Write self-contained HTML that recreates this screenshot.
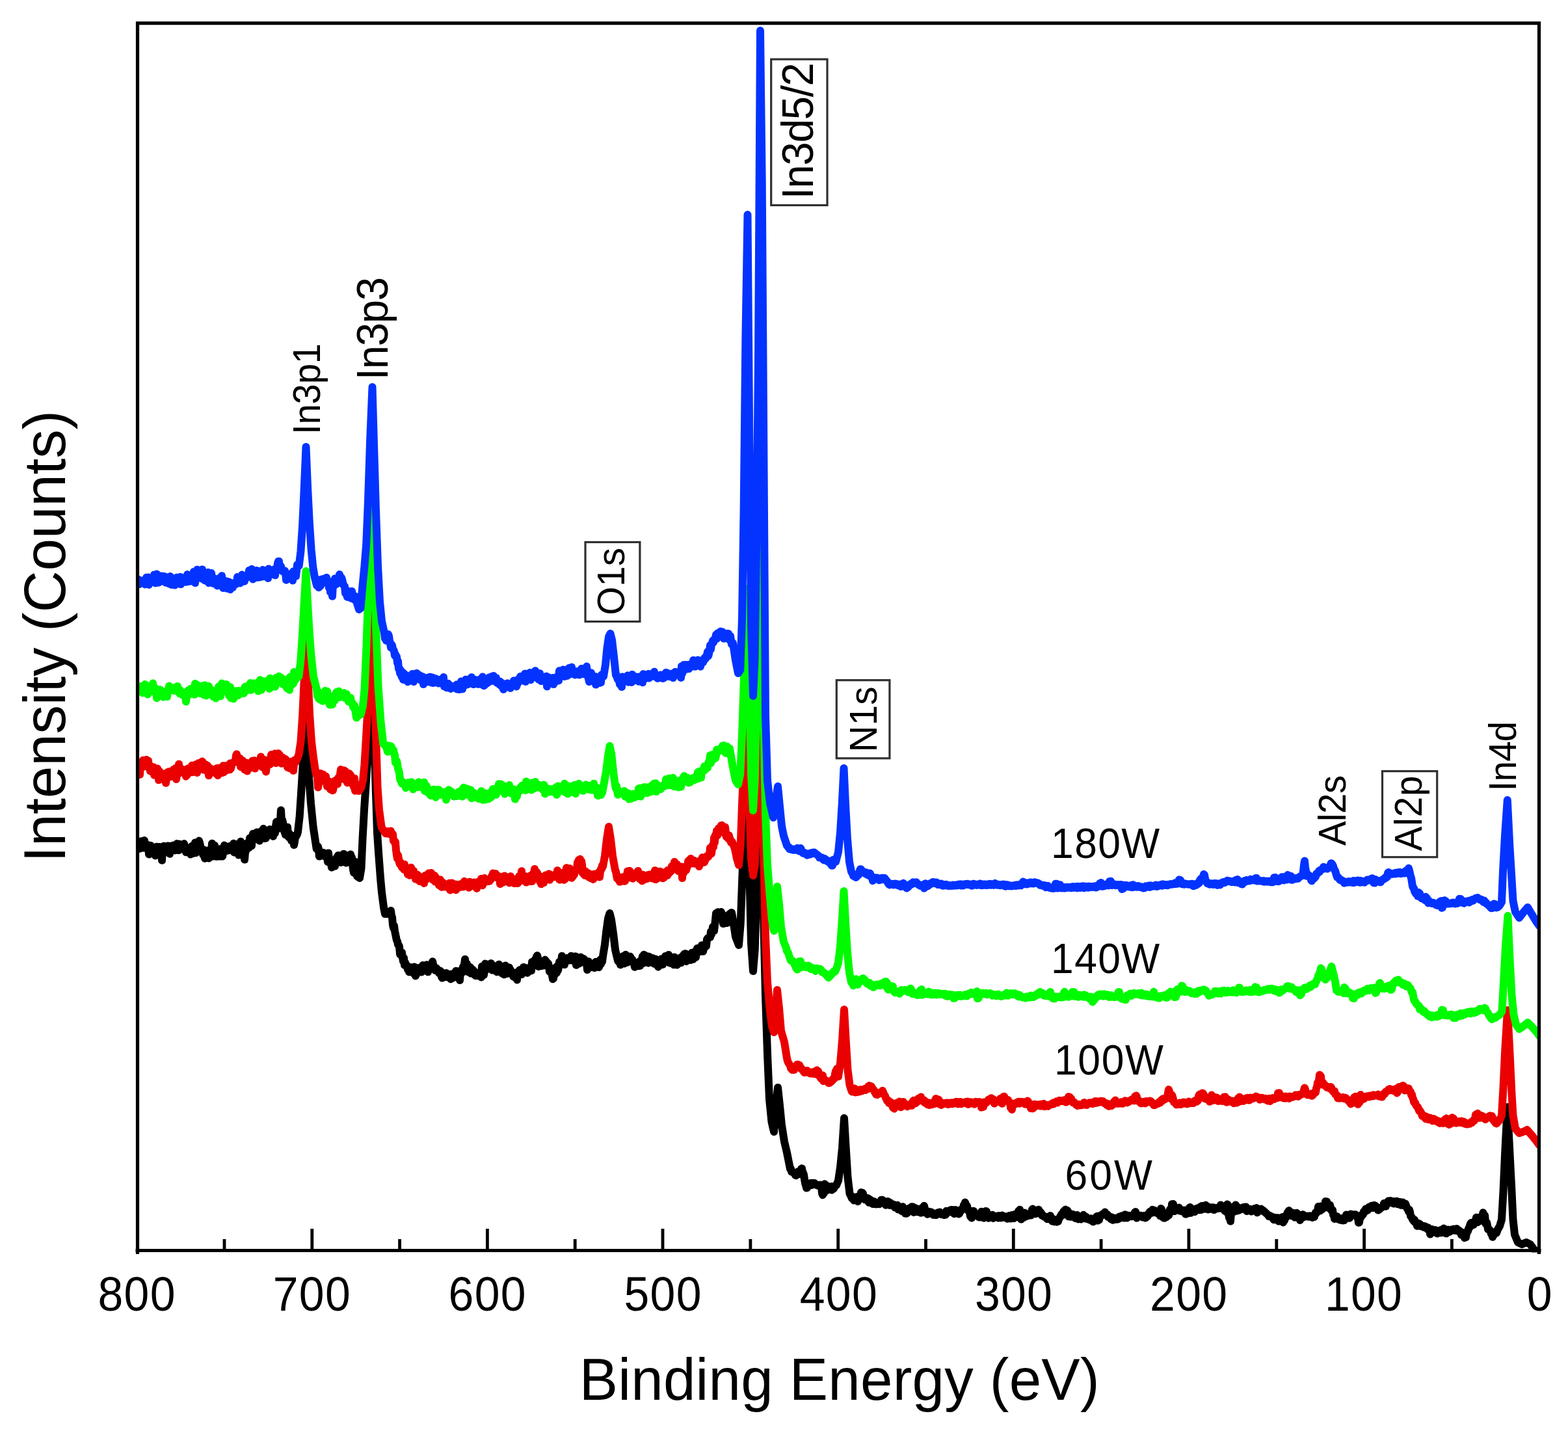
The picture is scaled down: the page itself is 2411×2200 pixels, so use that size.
<!DOCTYPE html>
<html lang="en"><head><meta charset="utf-8"><title>XPS survey spectra</title>
<style>html,body{margin:0;padding:0;background:#fff}body{width:2411px;height:2200px;overflow:hidden}svg{display:block}text{font-family:"Liberation Sans",Arial,Helvetica,sans-serif;fill:#000}</style></head><body>
<svg xmlns="http://www.w3.org/2000/svg" width="2411" height="2200" viewBox="0 0 2411 2200">
<rect width="2411" height="2200" fill="#fff"/>
<defs><clipPath id="plot"><rect x="211.5" y="35.7" width="2155.0" height="1889.8"/></clipPath></defs>
<g clip-path="url(#plot)">
<polyline points="212.0,1301.0 213.0,1295.1 214.0,1302.1 215.0,1304.7 216.0,1297.4 217.0,1293.3 218.0,1298.9 219.0,1301.0 220.0,1303.6 221.0,1292.6 222.0,1292.0 223.0,1300.9 224.0,1299.5 225.0,1304.1 226.0,1302.7 227.0,1298.9 228.0,1299.2 229.0,1313.5 230.0,1301.5 231.0,1300.4 232.0,1299.9 233.0,1306.8 234.0,1308.2 235.0,1307.1 236.0,1309.5 237.0,1312.3 238.0,1313.9 239.0,1315.5 240.0,1311.1 241.0,1301.7 242.0,1312.8 243.0,1302.8 244.0,1308.3 245.0,1302.0 246.0,1308.5 247.0,1304.6 248.0,1308.9 249.0,1322.8 250.0,1307.2 251.0,1311.0 252.0,1300.7 253.0,1305.2 254.0,1309.3 255.0,1305.6 256.0,1307.4 257.0,1305.8 258.0,1300.4 259.0,1307.3 260.0,1300.7 261.0,1312.7 262.0,1301.4 263.0,1306.6 264.0,1303.1 265.0,1307.2 266.0,1299.7 267.0,1306.8 268.0,1301.3 269.0,1307.4 270.0,1304.1 271.0,1301.6 272.0,1297.0 273.0,1303.8 274.0,1302.1 275.0,1307.2 276.0,1297.6 277.0,1301.6 278.0,1301.8 279.0,1301.2 280.0,1301.4 281.0,1301.7 282.0,1298.6 283.0,1297.1 284.0,1300.4 285.0,1305.5 286.0,1310.2 287.0,1308.2 288.0,1309.0 289.0,1308.2 290.0,1308.3 291.0,1306.4 292.0,1309.5 293.0,1313.5 294.0,1303.2 295.0,1300.8 296.0,1312.3 297.0,1303.8 298.0,1306.5 299.0,1305.4 300.0,1295.4 301.0,1311.2 302.0,1307.5 303.0,1299.5 304.0,1301.5 305.0,1297.9 306.0,1292.6 307.0,1295.5 308.0,1300.1 309.0,1305.8 310.0,1306.3 311.0,1305.6 312.0,1313.9 313.0,1306.5 314.0,1316.0 315.0,1319.8 316.0,1315.7 317.0,1307.8 318.0,1311.0 319.0,1315.3 320.0,1315.7 321.0,1319.5 322.0,1306.8 323.0,1310.5 324.0,1312.6 325.0,1307.9 326.0,1296.8 327.0,1310.5 328.0,1316.5 329.0,1309.5 330.0,1299.8 331.0,1302.6 332.0,1306.0 333.0,1316.9 334.0,1308.8 335.0,1307.0 336.0,1314.2 337.0,1307.1 338.0,1316.6 339.0,1305.3 340.0,1306.8 341.0,1312.8 342.0,1316.6 343.0,1312.3 344.0,1310.1 345.0,1299.6 346.0,1304.1 347.0,1303.9 348.0,1303.5 349.0,1308.0 350.0,1303.1 351.0,1307.6 352.0,1303.7 353.0,1301.1 354.0,1302.5 355.0,1304.2 356.0,1306.3 357.0,1300.4 358.0,1301.7 359.0,1296.7 360.0,1310.5 361.0,1310.0 362.0,1302.7 363.0,1301.5 364.0,1298.2 365.0,1304.8 366.0,1305.2 367.0,1314.5 368.0,1305.8 369.0,1301.2 370.0,1293.8 371.0,1311.6 372.0,1306.1 373.0,1297.9 374.0,1306.2 375.0,1298.1 376.0,1321.6 377.0,1310.8 378.0,1308.4 379.0,1305.1 380.0,1296.2 381.0,1303.5 382.0,1295.0 383.0,1303.0 384.0,1288.6 385.0,1292.3 386.0,1300.2 387.0,1300.3 388.0,1285.4 389.0,1281.8 390.0,1291.0 391.0,1290.5 392.0,1281.6 393.0,1282.6 394.0,1282.1 395.0,1279.4 396.0,1281.4 397.0,1289.8 398.0,1286.8 399.0,1292.7 400.0,1282.4 401.0,1281.8 402.0,1277.5 403.0,1281.5 404.0,1276.1 405.0,1274.0 406.0,1285.5 407.0,1289.0 408.0,1286.2 409.0,1288.6 410.0,1283.7 411.0,1279.3 412.0,1283.1 413.0,1281.0 414.0,1277.7 415.0,1275.1 416.0,1276.1 417.0,1283.0 418.0,1282.4 419.0,1278.2 420.0,1285.7 421.0,1278.6 422.0,1279.2 423.0,1280.8 424.0,1270.1 425.0,1263.5 426.0,1274.8 427.0,1266.8 428.0,1273.0 429.0,1265.6 430.0,1265.6 431.0,1261.5 432.0,1245.4 433.0,1262.6 434.0,1260.4 435.0,1264.3 436.0,1270.0 437.0,1277.8 438.0,1280.6 439.0,1283.4 440.0,1273.4 441.0,1279.1 442.0,1271.7 443.0,1283.0 444.0,1287.1 445.0,1281.7 446.0,1287.1 447.0,1287.9 448.0,1292.3 449.0,1284.7 450.0,1285.5 451.0,1286.7 452.0,1299.1 453.0,1294.2 454.0,1286.8 455.0,1286.5 456.0,1284.2 457.0,1282.8 458.0,1279.0 460.7,1255.0 463.0,1220.0 465.5,1180.0 468.2,1130.0 471.0,1083.0 474.2,1185.0 478.0,1235.0 481.7,1272.0 486.7,1305.0 487.8,1304.5 488.8,1301.2 489.9,1305.0 490.9,1316.6 492.0,1312.5 493.0,1311.0 494.0,1310.5 495.0,1312.5 496.0,1314.6 497.0,1310.8 498.0,1315.4 499.0,1316.4 500.0,1312.6 501.0,1313.6 502.0,1313.9 503.0,1314.9 504.0,1325.1 505.0,1311.4 506.0,1322.3 507.0,1321.9 508.0,1323.1 509.0,1327.7 510.0,1333.7 511.0,1330.1 512.0,1330.4 513.0,1327.0 514.0,1328.0 515.0,1331.6 516.0,1324.4 517.0,1319.7 518.0,1318.0 519.0,1317.5 520.0,1315.0 521.0,1325.3 522.0,1320.6 523.0,1318.1 524.0,1326.0 525.0,1316.5 526.0,1323.1 527.0,1323.5 528.0,1312.9 529.0,1313.0 530.0,1316.1 531.0,1324.7 532.0,1326.6 533.0,1315.2 534.0,1325.8 535.0,1319.4 536.0,1319.5 537.0,1319.0 538.0,1320.2 539.0,1313.5 540.0,1317.4 541.0,1318.1 542.0,1327.8 543.0,1336.9 544.0,1341.7 545.0,1329.3 546.0,1324.7 547.0,1332.6 548.0,1331.9 549.0,1347.1 553.0,1350.0 555.5,1335.0 557.5,1290.0 560.0,1245.0 563.0,1200.0 566.0,1150.0 569.0,1100.0 572.5,1050.0 575.2,1130.0 578.0,1220.0 580.0,1280.0 582.0,1310.0 585.0,1350.0 587.0,1372.0 590.0,1395.0 592.0,1405.0 597.0,1405.0 601.0,1400.0 602.0,1408.3 603.0,1409.9 604.0,1422.1 605.0,1426.9 606.0,1423.2 607.0,1431.1 608.0,1436.1 609.0,1441.1 610.0,1445.5 611.0,1447.1 612.0,1452.3 613.0,1452.9 614.0,1455.1 615.0,1467.1 616.0,1466.3 617.0,1469.1 618.0,1464.3 619.0,1471.9 620.0,1477.9 621.0,1472.9 622.0,1483.9 623.0,1479.9 624.0,1483.9 625.0,1483.3 626.0,1485.8 627.0,1490.6 628.0,1486.1 629.0,1494.4 630.0,1487.2 631.0,1487.1 632.0,1493.4 633.0,1487.4 634.0,1490.3 635.0,1495.3 636.0,1496.7 637.0,1486.4 638.0,1495.0 639.0,1500.4 640.0,1498.3 641.0,1492.7 642.0,1490.9 643.0,1491.5 644.0,1488.0 645.0,1490.7 646.0,1490.5 647.0,1490.2 648.0,1494.5 649.0,1489.0 650.0,1484.1 651.0,1492.6 652.0,1484.6 653.0,1486.3 654.0,1487.0 655.0,1485.8 656.0,1483.2 657.0,1485.8 658.0,1494.3 659.0,1484.2 660.0,1485.7 661.0,1490.0 662.0,1488.5 663.0,1488.4 664.0,1488.6 665.0,1478.3 666.0,1482.1 667.0,1485.5 668.0,1487.9 669.0,1491.8 670.0,1489.9 671.0,1488.5 672.0,1490.5 673.0,1490.7 674.0,1493.4 675.0,1496.0 676.0,1493.5 677.0,1492.8 678.0,1493.8 679.0,1501.9 680.0,1503.6 681.0,1502.7 682.0,1502.3 683.0,1502.3 684.0,1499.4 685.0,1501.9 686.0,1495.9 687.0,1499.0 688.0,1497.2 689.0,1502.6 690.0,1498.0 691.0,1499.8 692.0,1501.7 693.0,1505.2 694.0,1497.6 695.0,1497.2 696.0,1503.6 697.0,1496.8 698.0,1502.5 699.0,1499.0 700.0,1499.8 701.0,1492.8 702.0,1501.1 703.0,1495.9 704.0,1493.7 705.0,1503.5 706.0,1497.8 707.0,1507.0 708.0,1495.1 709.0,1491.6 710.0,1492.4 711.0,1495.0 712.0,1486.3 713.0,1485.2 714.0,1482.7 715.0,1474.7 716.0,1481.3 717.0,1481.8 718.0,1481.9 719.0,1492.3 720.0,1494.4 721.0,1493.0 722.0,1490.2 723.0,1486.9 724.0,1496.6 725.0,1495.2 726.0,1490.2 727.0,1496.8 728.0,1491.9 729.0,1497.7 730.0,1498.7 731.0,1499.9 732.0,1499.8 733.0,1500.0 734.0,1495.7 735.0,1498.8 736.0,1498.8 737.0,1500.2 738.0,1500.5 739.0,1500.2 740.0,1502.4 741.0,1485.8 742.0,1494.9 743.0,1491.3 744.0,1498.7 745.0,1492.3 746.0,1481.6 747.0,1487.4 748.0,1484.3 749.0,1490.0 750.0,1482.8 751.0,1486.4 752.0,1486.5 753.0,1486.9 754.0,1485.3 755.0,1481.0 756.0,1489.5 757.0,1491.6 758.0,1488.0 759.0,1484.8 760.0,1489.3 761.0,1490.8 762.0,1488.4 763.0,1489.1 764.0,1494.3 765.0,1485.3 766.0,1487.4 767.0,1482.7 768.0,1487.2 769.0,1487.1 770.0,1486.4 771.0,1487.5 772.0,1496.6 773.0,1489.5 774.0,1489.9 775.0,1498.3 776.0,1490.3 777.0,1484.4 778.0,1492.2 779.0,1487.5 780.0,1496.9 781.0,1487.3 782.0,1490.4 783.0,1487.5 784.0,1494.3 785.0,1491.1 786.0,1495.3 787.0,1494.9 788.0,1494.8 789.0,1501.1 790.0,1501.9 791.0,1499.5 792.0,1496.8 793.0,1495.5 794.0,1499.6 795.0,1506.5 796.0,1495.6 797.0,1493.7 798.0,1493.3 799.0,1491.2 800.0,1490.9 801.0,1493.0 802.0,1498.1 803.0,1492.9 804.0,1491.0 805.0,1486.9 806.0,1493.4 807.0,1492.4 808.0,1488.0 809.0,1488.4 810.0,1492.0 811.0,1495.7 812.0,1494.2 813.0,1491.2 814.0,1487.8 815.0,1488.7 816.0,1486.0 817.0,1492.3 818.0,1478.9 819.0,1480.2 820.0,1484.5 821.0,1477.4 822.0,1481.9 823.0,1475.0 824.0,1474.1 825.0,1470.7 826.0,1469.0 827.0,1472.5 828.0,1485.9 829.0,1482.3 830.0,1484.2 831.0,1485.2 832.0,1483.6 833.0,1485.1 834.0,1480.2 835.0,1480.2 836.0,1484.3 837.0,1479.3 838.0,1475.6 839.0,1479.4 840.0,1478.0 841.0,1483.9 842.0,1480.7 843.0,1481.2 844.0,1485.5 845.0,1493.9 846.0,1489.8 847.0,1493.6 848.0,1496.0 849.0,1500.1 850.0,1505.3 851.0,1504.2 852.0,1490.5 853.0,1498.5 854.0,1490.8 855.0,1486.8 856.0,1495.5 857.0,1485.2 858.0,1491.7 859.0,1487.1 860.0,1478.8 861.0,1483.2 862.0,1482.9 863.0,1478.8 864.0,1469.7 865.0,1475.8 866.0,1476.1 867.0,1472.7 868.0,1483.0 869.0,1475.4 870.0,1474.7 871.0,1474.9 872.0,1473.0 873.0,1472.8 874.0,1475.7 875.0,1476.4 876.0,1473.2 877.0,1474.6 878.0,1469.7 879.0,1476.4 880.0,1471.7 881.0,1474.9 882.0,1470.7 883.0,1472.4 884.0,1475.2 885.0,1470.3 886.0,1483.8 887.0,1475.0 888.0,1475.1 889.0,1473.0 890.0,1481.6 891.0,1481.0 892.0,1477.4 893.0,1471.6 894.0,1475.0 895.0,1479.2 896.0,1475.7 897.0,1473.8 898.0,1474.2 899.0,1476.2 900.0,1479.5 901.0,1477.7 902.0,1480.6 903.0,1491.0 904.0,1487.9 905.0,1478.3 906.0,1483.7 907.0,1483.3 908.0,1482.6 909.0,1486.9 910.0,1482.0 911.0,1482.1 912.0,1482.0 913.0,1483.0 914.0,1488.1 915.0,1486.3 916.0,1478.8 917.0,1482.1 918.0,1480.9 919.0,1486.7 920.0,1484.7 921.0,1487.1 922.0,1483.8 923.0,1475.4 924.0,1482.0 925.0,1479.4 926.0,1478.6 927.0,1470.3 930.0,1452.0 932.5,1430.0 935.0,1412.0 937.5,1404.0 940.0,1414.0 943.0,1435.0 946.0,1460.0 950.0,1477.0 951.0,1478.5 952.0,1477.0 953.0,1478.3 954.0,1483.3 955.0,1482.5 956.0,1477.3 957.0,1473.5 958.0,1470.0 959.0,1476.1 960.0,1481.4 961.0,1476.4 962.0,1467.8 963.0,1472.0 964.0,1475.8 965.0,1479.5 966.0,1477.0 967.0,1473.3 968.0,1473.8 969.0,1470.4 970.0,1473.6 971.0,1475.1 972.0,1474.6 973.0,1478.7 974.0,1478.1 975.0,1481.8 976.0,1486.8 977.0,1485.4 978.0,1485.3 979.0,1484.1 980.0,1480.5 981.0,1484.2 982.0,1485.2 983.0,1478.2 984.0,1484.9 985.0,1477.8 986.0,1478.9 987.0,1475.0 988.0,1470.3 989.0,1480.8 990.0,1467.8 991.0,1475.5 992.0,1470.4 993.0,1473.6 994.0,1469.9 995.0,1471.5 996.0,1476.5 997.0,1480.4 998.0,1470.6 999.0,1473.8 1000.0,1477.4 1001.0,1472.3 1002.0,1477.7 1003.0,1472.9 1004.0,1478.5 1005.0,1478.5 1006.0,1481.8 1007.0,1479.4 1008.0,1474.4 1009.0,1481.6 1010.0,1475.9 1011.0,1483.1 1012.0,1486.4 1013.0,1482.7 1014.0,1478.1 1015.0,1483.9 1016.0,1479.8 1017.0,1474.2 1018.0,1477.0 1019.0,1482.9 1020.0,1476.2 1021.0,1477.3 1022.0,1475.2 1023.0,1469.9 1024.0,1473.6 1025.0,1476.3 1026.0,1475.9 1027.0,1474.8 1028.0,1467.9 1029.0,1480.2 1030.0,1478.6 1031.0,1479.9 1032.0,1481.1 1033.0,1475.0 1034.0,1474.6 1035.0,1478.1 1036.0,1483.2 1037.0,1471.4 1038.0,1476.8 1039.0,1475.2 1040.0,1480.0 1041.0,1483.5 1042.0,1477.3 1043.0,1474.1 1044.0,1479.0 1045.0,1478.0 1046.0,1472.5 1047.0,1480.2 1048.0,1474.1 1049.0,1477.5 1050.0,1469.3 1051.0,1476.9 1052.0,1466.8 1053.0,1476.1 1054.0,1466.1 1055.0,1477.9 1056.0,1471.9 1057.0,1468.0 1058.0,1473.0 1059.0,1475.4 1060.0,1470.9 1061.0,1473.0 1062.0,1476.0 1063.0,1474.8 1064.0,1464.7 1065.0,1474.5 1066.0,1474.8 1067.0,1471.6 1068.0,1471.5 1069.0,1462.7 1070.0,1471.6 1071.0,1462.6 1072.0,1458.1 1073.0,1461.3 1074.0,1461.3 1075.0,1458.7 1076.0,1456.6 1077.0,1462.9 1078.0,1461.2 1079.0,1453.3 1080.0,1456.6 1081.0,1462.7 1082.0,1458.9 1083.0,1457.1 1084.0,1456.0 1085.0,1451.7 1086.0,1454.5 1087.0,1444.2 1088.0,1442.5 1089.0,1442.6 1090.0,1441.7 1091.0,1440.1 1092.0,1440.9 1093.0,1432.1 1094.0,1436.3 1095.0,1432.1 1096.0,1425.0 1097.0,1426.5 1098.0,1430.9 1099.0,1422.7 1100.0,1414.6 1101.0,1404.1 1102.0,1406.5 1103.0,1403.1 1104.0,1402.3 1105.0,1411.1 1106.0,1406.4 1107.0,1405.7 1108.0,1402.1 1109.0,1402.0 1110.0,1406.4 1111.0,1406.3 1112.0,1420.1 1113.0,1409.2 1114.0,1409.8 1115.0,1417.4 1116.0,1414.9 1117.0,1411.6 1118.0,1419.0 1119.0,1411.7 1120.0,1406.4 1121.0,1410.8 1122.0,1409.8 1123.0,1404.1 1124.0,1405.2 1125.0,1402.9 1128.0,1420.0 1131.0,1440.0 1136.0,1453.0 1138.7,1420.0 1141.3,1350.0 1144.0,1280.0 1146.6,1230.0 1149.3,1192.0 1152.0,1330.0 1155.0,1450.0 1158.0,1493.0 1160.7,1460.0 1163.4,1370.0 1166.1,1230.0 1169.0,1088.0 1171.7,1250.0 1174.4,1420.0 1177.0,1530.0 1180.0,1620.0 1183.0,1690.0 1186.5,1725.0 1190.0,1740.0 1192.5,1705.0 1196.0,1672.0 1199.0,1700.0 1202.0,1730.0 1206.0,1755.0 1210.0,1772.0 1215.0,1797.0 1216.0,1797.0 1217.0,1801.3 1218.0,1800.8 1219.0,1801.8 1220.0,1802.5 1221.0,1803.8 1222.0,1803.7 1223.0,1806.8 1224.0,1807.2 1225.0,1804.1 1226.0,1804.0 1227.0,1801.2 1228.0,1805.1 1229.0,1802.5 1230.0,1802.8 1231.0,1800.2 1232.0,1797.0 1233.0,1796.3 1234.0,1802.0 1235.0,1803.2 1236.0,1806.0 1237.0,1813.1 1238.0,1819.1 1239.0,1822.2 1240.0,1826.4 1241.0,1826.2 1242.0,1821.1 1243.0,1821.3 1244.0,1819.7 1245.0,1819.3 1246.0,1822.2 1247.0,1818.7 1248.0,1822.1 1249.0,1820.3 1250.0,1818.9 1251.0,1820.1 1252.0,1818.7 1253.0,1820.6 1254.0,1820.7 1255.0,1820.7 1256.0,1822.2 1257.0,1822.4 1258.0,1822.7 1259.0,1822.1 1260.0,1823.7 1261.0,1821.6 1262.0,1824.5 1263.0,1824.2 1264.0,1834.6 1265.0,1837.2 1266.0,1834.6 1267.0,1834.3 1268.0,1820.3 1269.0,1821.8 1270.0,1821.7 1271.0,1826.8 1272.0,1829.8 1273.0,1827.7 1274.0,1827.9 1275.0,1827.1 1276.0,1828.2 1277.0,1827.6 1278.0,1824.0 1279.0,1829.5 1280.0,1828.0 1281.0,1828.1 1282.0,1827.3 1283.0,1825.0 1284.0,1822.9 1285.0,1822.3 1286.0,1822.2 1289.0,1815.0 1292.0,1795.0 1295.0,1765.0 1298.0,1719.0 1300.7,1765.0 1303.5,1810.0 1306.5,1835.0 1309.0,1840.0 1310.0,1842.4 1311.0,1840.1 1312.0,1841.7 1313.0,1845.5 1314.0,1840.8 1315.0,1840.8 1316.0,1842.1 1317.0,1840.1 1318.0,1841.5 1319.0,1847.2 1320.0,1845.1 1321.0,1841.5 1322.0,1841.6 1323.0,1838.2 1324.0,1833.2 1325.0,1833.5 1326.0,1833.6 1327.0,1835.1 1328.0,1840.6 1329.0,1843.5 1330.0,1844.4 1331.0,1843.1 1332.0,1841.5 1333.0,1842.5 1334.0,1843.2 1335.0,1842.2 1336.0,1848.7 1337.0,1845.9 1338.0,1844.5 1339.0,1847.9 1340.0,1845.7 1341.0,1847.7 1342.0,1851.1 1343.0,1849.9 1344.0,1847.2 1345.0,1848.4 1346.0,1851.3 1347.0,1851.4 1348.0,1849.9 1349.0,1850.1 1350.0,1849.2 1351.0,1850.0 1352.0,1851.3 1353.0,1848.8 1354.0,1847.8 1355.0,1844.7 1356.0,1846.5 1357.0,1844.8 1358.0,1847.7 1359.0,1847.2 1360.0,1849.8 1361.0,1849.0 1362.0,1852.8 1363.0,1851.4 1364.0,1849.1 1365.0,1847.0 1366.0,1847.6 1367.0,1848.5 1368.0,1852.8 1369.0,1849.0 1370.0,1852.5 1371.0,1852.4 1372.0,1853.4 1373.0,1853.2 1374.0,1851.7 1375.0,1853.1 1376.0,1856.5 1377.0,1853.9 1378.0,1855.9 1379.0,1854.4 1380.0,1852.8 1381.0,1859.3 1382.0,1857.8 1383.0,1859.8 1384.0,1857.1 1385.0,1860.7 1386.0,1858.2 1387.0,1862.2 1388.0,1855.2 1389.0,1859.9 1390.0,1861.1 1391.0,1862.5 1392.0,1865.6 1393.0,1864.5 1394.0,1865.7 1395.0,1864.1 1396.0,1862.9 1397.0,1863.2 1398.0,1857.4 1399.0,1858.5 1400.0,1857.8 1401.0,1856.6 1402.0,1855.2 1403.0,1856.5 1404.0,1855.6 1405.0,1863.9 1406.0,1859.8 1407.0,1861.4 1408.0,1857.3 1409.0,1860.7 1410.0,1862.2 1411.0,1863.3 1412.0,1861.9 1413.0,1858.8 1414.0,1860.8 1415.0,1862.3 1416.0,1864.7 1417.0,1863.3 1418.0,1863.7 1419.0,1855.9 1420.0,1856.3 1421.0,1853.8 1422.0,1858.2 1423.0,1864.4 1424.0,1863.1 1425.0,1863.0 1426.0,1866.7 1427.0,1865.8 1428.0,1865.3 1429.0,1862.8 1430.0,1864.8 1431.0,1864.4 1432.0,1863.5 1433.0,1866.0 1434.0,1865.2 1435.0,1867.7 1436.0,1866.9 1437.0,1865.8 1438.0,1867.9 1439.0,1868.1 1440.0,1867.7 1441.0,1866.0 1442.0,1864.2 1443.0,1865.3 1444.0,1864.8 1445.0,1863.6 1446.0,1865.8 1447.0,1866.8 1448.0,1867.0 1449.0,1866.6 1450.0,1867.1 1451.0,1865.1 1452.0,1868.1 1453.0,1864.9 1454.0,1867.6 1455.0,1861.8 1456.0,1865.1 1457.0,1863.2 1458.0,1862.2 1459.0,1863.6 1460.0,1861.0 1461.0,1862.5 1462.0,1860.1 1463.0,1862.3 1464.0,1859.9 1465.0,1862.2 1466.0,1861.3 1467.0,1866.1 1468.0,1861.9 1469.0,1860.0 1470.0,1862.2 1471.0,1862.8 1472.0,1862.2 1473.0,1861.1 1474.0,1866.4 1475.0,1866.1 1476.0,1863.0 1477.0,1860.7 1478.0,1861.3 1479.0,1858.7 1480.0,1858.8 1481.0,1857.9 1482.0,1852.4 1483.0,1853.0 1484.0,1848.6 1485.0,1851.6 1486.0,1856.4 1487.0,1853.8 1488.0,1859.3 1489.0,1861.6 1490.0,1860.4 1491.0,1864.2 1492.0,1870.4 1493.0,1869.0 1494.0,1872.5 1495.0,1863.9 1496.0,1862.9 1497.0,1861.8 1498.0,1865.5 1499.0,1866.0 1500.0,1868.6 1501.0,1868.0 1502.0,1867.6 1503.0,1869.2 1504.0,1869.9 1505.0,1871.3 1506.0,1868.5 1507.0,1871.4 1508.0,1869.7 1509.0,1862.7 1510.0,1866.8 1511.0,1866.3 1512.0,1867.9 1513.0,1872.6 1514.0,1870.3 1515.0,1863.5 1516.0,1861.9 1517.0,1862.4 1518.0,1870.8 1519.0,1870.3 1520.0,1872.7 1521.0,1870.5 1522.0,1871.2 1523.0,1868.4 1524.0,1869.5 1525.0,1871.2 1526.0,1867.7 1527.0,1872.9 1528.0,1868.8 1529.0,1870.0 1530.0,1870.7 1531.0,1871.0 1532.0,1870.2 1533.0,1870.4 1534.0,1870.5 1535.0,1872.5 1536.0,1869.1 1537.0,1869.2 1538.0,1870.0 1539.0,1872.3 1540.0,1870.4 1541.0,1868.5 1542.0,1871.7 1543.0,1870.4 1544.0,1869.9 1545.0,1870.9 1546.0,1870.4 1547.0,1871.4 1548.0,1872.7 1549.0,1873.7 1550.0,1872.7 1551.0,1872.2 1552.0,1868.9 1553.0,1872.3 1554.0,1873.6 1555.0,1868.6 1556.0,1867.9 1557.0,1870.6 1558.0,1870.6 1559.0,1873.1 1560.0,1870.4 1561.0,1866.8 1562.0,1867.5 1563.0,1871.0 1564.0,1869.8 1565.0,1868.5 1566.0,1861.8 1567.0,1862.6 1568.0,1859.7 1569.0,1870.8 1570.0,1874.6 1571.0,1868.1 1572.0,1870.9 1573.0,1871.1 1574.0,1872.0 1575.0,1865.4 1576.0,1864.6 1577.0,1868.9 1578.0,1866.2 1579.0,1869.7 1580.0,1868.2 1581.0,1867.9 1582.0,1868.5 1583.0,1866.7 1584.0,1868.5 1585.0,1868.4 1586.0,1866.2 1587.0,1859.4 1588.0,1858.6 1589.0,1859.3 1590.0,1862.9 1591.0,1863.9 1592.0,1866.3 1593.0,1863.7 1594.0,1862.3 1595.0,1862.5 1596.0,1861.3 1597.0,1859.7 1598.0,1861.8 1599.0,1863.8 1600.0,1863.6 1601.0,1864.8 1602.0,1868.7 1603.0,1867.9 1604.0,1868.7 1605.0,1869.5 1606.0,1871.1 1607.0,1871.0 1608.0,1870.6 1609.0,1871.4 1610.0,1874.1 1611.0,1872.5 1612.0,1872.6 1613.0,1871.5 1614.0,1874.2 1615.0,1869.1 1616.0,1872.2 1617.0,1876.3 1618.0,1877.4 1619.0,1875.9 1620.0,1874.3 1621.0,1878.2 1622.0,1875.8 1623.0,1876.0 1624.0,1877.3 1625.0,1878.7 1626.0,1877.2 1627.0,1877.9 1628.0,1874.1 1629.0,1873.0 1630.0,1870.6 1631.0,1869.5 1632.0,1867.1 1633.0,1868.5 1634.0,1866.3 1635.0,1862.8 1636.0,1864.2 1637.0,1860.9 1638.0,1859.6 1639.0,1864.2 1640.0,1861.8 1641.0,1860.8 1642.0,1862.2 1643.0,1870.3 1644.0,1865.4 1645.0,1869.7 1646.0,1870.8 1647.0,1866.4 1648.0,1868.1 1649.0,1868.9 1650.0,1867.1 1651.0,1870.5 1652.0,1870.4 1653.0,1872.7 1654.0,1873.0 1655.0,1871.5 1656.0,1867.9 1657.0,1869.2 1658.0,1874.4 1659.0,1871.7 1660.0,1873.7 1661.0,1872.1 1662.0,1874.4 1663.0,1872.5 1664.0,1870.4 1665.0,1869.8 1666.0,1867.8 1667.0,1873.0 1668.0,1873.3 1669.0,1872.5 1670.0,1870.7 1671.0,1873.4 1672.0,1874.0 1673.0,1874.1 1674.0,1873.5 1675.0,1875.1 1676.0,1875.5 1677.0,1873.3 1678.0,1876.5 1679.0,1877.1 1680.0,1874.1 1681.0,1878.3 1682.0,1875.6 1683.0,1876.0 1684.0,1874.4 1685.0,1873.0 1686.0,1870.4 1687.0,1869.8 1688.0,1876.6 1689.0,1875.4 1690.0,1875.5 1691.0,1869.2 1692.0,1869.3 1693.0,1868.1 1694.0,1867.8 1695.0,1868.3 1696.0,1866.3 1697.0,1866.0 1698.0,1865.5 1699.0,1863.4 1700.0,1865.9 1701.0,1868.0 1702.0,1868.9 1703.0,1867.3 1704.0,1871.1 1705.0,1869.8 1706.0,1869.9 1707.0,1871.2 1708.0,1874.1 1709.0,1871.2 1710.0,1871.9 1711.0,1875.7 1712.0,1875.3 1713.0,1874.2 1714.0,1874.7 1715.0,1872.8 1716.0,1873.1 1717.0,1874.7 1718.0,1872.7 1719.0,1874.4 1720.0,1873.8 1721.0,1870.4 1722.0,1872.7 1723.0,1871.5 1724.0,1871.4 1725.0,1869.2 1726.0,1871.9 1727.0,1871.2 1728.0,1870.0 1729.0,1872.5 1730.0,1867.3 1731.0,1867.9 1732.0,1868.0 1733.0,1872.4 1734.0,1870.9 1735.0,1870.1 1736.0,1869.3 1737.0,1868.8 1738.0,1869.0 1739.0,1870.2 1740.0,1870.2 1741.0,1869.7 1742.0,1868.9 1743.0,1867.8 1744.0,1869.4 1745.0,1863.8 1746.0,1862.9 1747.0,1866.0 1748.0,1872.6 1749.0,1869.3 1750.0,1869.3 1751.0,1869.8 1752.0,1868.7 1753.0,1870.1 1754.0,1868.7 1755.0,1869.4 1756.0,1870.9 1757.0,1871.4 1758.0,1871.5 1759.0,1869.0 1760.0,1872.1 1761.0,1872.4 1762.0,1872.0 1763.0,1871.1 1764.0,1870.5 1765.0,1869.4 1766.0,1865.7 1767.0,1865.2 1768.0,1862.9 1769.0,1864.2 1770.0,1864.0 1771.0,1864.8 1772.0,1859.8 1773.0,1864.1 1774.0,1860.8 1775.0,1860.7 1776.0,1863.8 1777.0,1864.0 1778.0,1863.6 1779.0,1865.0 1780.0,1864.2 1781.0,1864.6 1782.0,1865.7 1783.0,1867.3 1784.0,1869.4 1785.0,1858.0 1786.0,1859.1 1787.0,1861.7 1788.0,1871.4 1789.0,1870.7 1790.0,1872.6 1791.0,1872.5 1792.0,1871.5 1793.0,1868.2 1794.0,1870.9 1795.0,1868.9 1796.0,1865.3 1797.0,1868.6 1798.0,1865.9 1799.0,1859.3 1800.0,1863.6 1801.0,1861.5 1802.0,1851.2 1803.0,1852.5 1804.0,1851.0 1805.0,1859.1 1806.0,1862.0 1807.0,1860.6 1808.0,1859.8 1809.0,1860.0 1810.0,1860.3 1811.0,1860.5 1812.0,1858.7 1813.0,1856.6 1814.0,1861.5 1815.0,1859.5 1816.0,1859.8 1817.0,1862.3 1818.0,1861.8 1819.0,1861.4 1820.0,1861.1 1821.0,1860.5 1822.0,1861.0 1823.0,1866.7 1824.0,1863.4 1825.0,1864.8 1826.0,1865.8 1827.0,1860.7 1828.0,1857.9 1829.0,1856.8 1830.0,1856.0 1831.0,1864.7 1832.0,1861.0 1833.0,1862.9 1834.0,1862.1 1835.0,1862.0 1836.0,1859.1 1837.0,1863.0 1838.0,1858.8 1839.0,1858.9 1840.0,1859.0 1841.0,1857.4 1842.0,1857.5 1843.0,1856.9 1844.0,1860.3 1845.0,1855.7 1846.0,1857.6 1847.0,1859.9 1848.0,1854.0 1849.0,1856.4 1850.0,1855.8 1851.0,1856.6 1852.0,1857.2 1853.0,1858.7 1854.0,1852.7 1855.0,1855.1 1856.0,1854.4 1857.0,1856.8 1858.0,1859.4 1859.0,1856.0 1860.0,1857.2 1861.0,1857.9 1862.0,1856.3 1863.0,1858.8 1864.0,1858.8 1865.0,1856.2 1866.0,1859.9 1867.0,1860.0 1868.0,1857.9 1869.0,1857.0 1870.0,1858.2 1871.0,1857.6 1872.0,1858.0 1873.0,1858.0 1874.0,1856.7 1875.0,1856.3 1876.0,1855.4 1877.0,1852.4 1878.0,1855.0 1879.0,1858.0 1880.0,1855.1 1881.0,1857.2 1882.0,1858.8 1883.0,1861.4 1884.0,1860.2 1885.0,1859.9 1886.0,1863.5 1887.0,1851.5 1888.0,1852.1 1889.0,1866.2 1890.0,1872.2 1891.0,1872.7 1892.0,1877.6 1893.0,1863.9 1894.0,1861.6 1895.0,1864.5 1896.0,1860.1 1897.0,1860.0 1898.0,1862.7 1899.0,1853.8 1900.0,1852.4 1901.0,1861.7 1902.0,1861.2 1903.0,1861.2 1904.0,1856.3 1905.0,1859.8 1906.0,1860.2 1907.0,1857.5 1908.0,1858.4 1909.0,1859.0 1910.0,1857.1 1911.0,1857.3 1912.0,1856.0 1913.0,1857.7 1914.0,1859.3 1915.0,1855.7 1916.0,1855.5 1917.0,1862.0 1918.0,1859.5 1919.0,1861.3 1920.0,1861.2 1921.0,1859.8 1922.0,1860.7 1923.0,1858.9 1924.0,1862.4 1925.0,1859.9 1926.0,1859.4 1927.0,1860.8 1928.0,1859.3 1929.0,1858.1 1930.0,1859.8 1931.0,1859.8 1932.0,1857.1 1933.0,1864.3 1934.0,1863.5 1935.0,1862.4 1936.0,1859.0 1937.0,1859.5 1938.0,1858.9 1939.0,1858.5 1940.0,1860.8 1941.0,1859.9 1942.0,1861.9 1943.0,1861.5 1944.0,1863.1 1945.0,1863.1 1946.0,1864.6 1947.0,1865.2 1948.0,1866.3 1949.0,1867.3 1950.0,1867.9 1951.0,1870.0 1952.0,1869.9 1953.0,1868.9 1954.0,1870.8 1955.0,1870.8 1956.0,1871.4 1957.0,1870.9 1958.0,1874.5 1959.0,1875.3 1960.0,1872.4 1961.0,1872.1 1962.0,1872.7 1963.0,1875.2 1964.0,1873.8 1965.0,1872.2 1966.0,1877.5 1967.0,1874.2 1968.0,1873.5 1969.0,1873.1 1970.0,1875.8 1971.0,1875.6 1972.0,1871.1 1973.0,1879.4 1974.0,1876.0 1975.0,1876.5 1976.0,1872.3 1977.0,1872.1 1978.0,1869.7 1979.0,1866.1 1980.0,1863.7 1981.0,1862.6 1982.0,1861.0 1983.0,1868.7 1984.0,1865.2 1985.0,1868.8 1986.0,1866.2 1987.0,1869.3 1988.0,1864.7 1989.0,1865.9 1990.0,1867.1 1991.0,1871.6 1992.0,1865.2 1993.0,1865.5 1994.0,1864.7 1995.0,1867.1 1996.0,1867.9 1997.0,1871.0 1998.0,1867.7 1999.0,1875.9 2000.0,1873.8 2001.0,1870.9 2002.0,1872.4 2003.0,1867.2 2004.0,1867.7 2005.0,1870.5 2006.0,1870.8 2007.0,1870.0 2008.0,1869.7 2009.0,1869.8 2010.0,1869.5 2011.0,1870.1 2012.0,1870.7 2013.0,1870.0 2014.0,1869.4 2015.0,1870.3 2016.0,1870.7 2017.0,1871.1 2018.0,1872.1 2019.0,1868.9 2020.0,1869.2 2021.0,1870.8 2022.0,1866.7 2023.0,1863.9 2024.0,1865.1 2025.0,1863.4 2026.0,1862.1 2027.0,1855.0 2028.0,1857.2 2029.0,1856.5 2030.0,1861.4 2031.0,1854.6 2032.0,1857.5 2033.0,1859.3 2034.0,1857.7 2035.0,1855.9 2036.0,1857.0 2037.0,1854.2 2038.0,1847.1 2039.0,1850.8 2040.0,1847.2 2041.0,1856.0 2042.0,1856.7 2043.0,1855.6 2044.0,1853.6 2045.0,1852.6 2046.0,1856.7 2047.0,1860.8 2048.0,1860.3 2049.0,1860.4 2050.0,1867.6 2051.0,1868.0 2052.0,1873.9 2053.0,1870.6 2054.0,1869.6 2055.0,1871.5 2056.0,1870.2 2057.0,1871.9 2058.0,1873.3 2059.0,1875.0 2060.0,1873.6 2061.0,1873.6 2062.0,1876.0 2063.0,1873.2 2064.0,1874.4 2065.0,1876.4 2066.0,1872.4 2067.0,1876.1 2068.0,1871.8 2069.0,1870.7 2070.0,1867.5 2071.0,1871.0 2072.0,1872.0 2073.0,1870.7 2074.0,1870.3 2075.0,1872.8 2076.0,1869.7 2077.0,1866.4 2078.0,1867.5 2079.0,1867.9 2080.0,1867.4 2081.0,1867.3 2082.0,1867.8 2083.0,1867.4 2084.0,1867.3 2085.0,1869.3 2086.0,1870.2 2087.0,1869.8 2088.0,1873.0 2089.0,1879.8 2090.0,1879.3 2091.0,1872.8 2092.0,1872.4 2093.0,1868.2 2094.0,1869.3 2095.0,1866.9 2096.0,1866.9 2097.0,1862.7 2098.0,1863.8 2099.0,1860.5 2100.0,1858.5 2101.0,1860.0 2102.0,1858.0 2103.0,1860.7 2104.0,1858.3 2105.0,1855.6 2106.0,1855.4 2107.0,1857.0 2108.0,1856.4 2109.0,1853.8 2110.0,1854.2 2111.0,1857.1 2112.0,1853.1 2113.0,1853.0 2114.0,1855.5 2115.0,1853.7 2116.0,1856.3 2117.0,1856.7 2118.0,1857.5 2119.0,1860.5 2120.0,1859.9 2121.0,1859.4 2122.0,1857.3 2123.0,1857.6 2124.0,1856.0 2125.0,1856.0 2126.0,1855.4 2127.0,1855.1 2128.0,1850.0 2129.0,1852.6 2130.0,1851.9 2131.0,1854.7 2132.0,1849.5 2133.0,1849.7 2134.0,1847.2 2135.0,1846.3 2136.0,1848.6 2137.0,1846.3 2138.0,1846.0 2139.0,1848.5 2140.0,1849.5 2141.0,1847.5 2142.0,1847.2 2143.0,1850.5 2144.0,1847.0 2145.0,1848.9 2146.0,1849.6 2147.0,1848.2 2148.0,1846.7 2149.0,1851.2 2150.0,1848.4 2151.0,1849.2 2152.0,1848.7 2153.0,1847.9 2154.0,1852.8 2155.0,1850.6 2156.0,1849.7 2157.0,1848.4 2158.0,1851.7 2159.0,1853.6 2160.0,1853.0 2161.0,1850.5 2162.0,1853.2 2163.0,1856.2 2164.0,1858.5 2165.0,1858.7 2166.0,1862.8 2167.0,1859.7 2168.0,1863.4 2169.0,1869.6 2170.0,1870.8 2171.0,1871.6 2172.0,1874.9 2173.0,1875.2 2174.0,1877.5 2175.0,1875.3 2176.0,1879.3 2177.0,1878.9 2178.0,1879.6 2179.0,1884.9 2180.0,1884.7 2181.0,1884.5 2182.0,1881.1 2183.0,1884.3 2184.0,1882.3 2185.0,1885.3 2186.0,1884.5 2187.0,1885.3 2188.0,1885.4 2189.0,1886.8 2190.0,1885.0 2191.0,1886.9 2192.0,1885.7 2193.0,1886.3 2194.0,1887.1 2195.0,1889.9 2196.0,1887.4 2197.0,1889.6 2198.0,1890.4 2199.0,1897.5 2200.0,1895.9 2201.0,1891.3 2202.0,1890.1 2203.0,1891.6 2204.0,1894.4 2205.0,1894.2 2206.0,1891.5 2207.0,1891.0 2208.0,1892.7 2209.0,1894.3 2210.0,1896.4 2211.0,1895.1 2212.0,1893.7 2213.0,1894.1 2214.0,1893.4 2215.0,1891.0 2216.0,1895.3 2217.0,1891.9 2218.0,1892.8 2219.0,1892.1 2220.0,1888.5 2221.0,1892.3 2222.0,1895.8 2223.0,1896.1 2224.0,1896.3 2225.0,1894.5 2226.0,1893.4 2227.0,1890.6 2228.0,1890.8 2229.0,1893.9 2230.0,1891.1 2231.0,1890.7 2232.0,1890.5 2233.0,1890.6 2234.0,1891.4 2235.0,1889.4 2236.0,1890.6 2237.0,1891.7 2238.0,1891.4 2239.0,1889.8 2240.0,1889.0 2241.0,1892.6 2242.0,1892.1 2243.0,1891.5 2244.0,1892.3 2245.0,1893.0 2246.0,1893.6 2247.0,1898.5 2248.0,1895.1 2249.0,1895.1 2250.0,1897.5 2251.0,1899.0 2252.0,1903.0 2253.0,1902.1 2254.0,1902.3 2255.0,1895.7 2256.0,1893.5 2257.0,1893.2 2258.0,1888.9 2259.0,1888.3 2260.0,1884.1 2261.0,1881.4 2262.0,1879.9 2263.0,1882.3 2264.0,1883.8 2265.0,1880.2 2266.0,1882.8 2267.0,1877.7 2268.0,1879.3 2269.0,1876.4 2270.0,1871.7 2271.0,1876.4 2272.0,1879.1 2272.9,1877.9 2273.9,1876.7 2274.8,1877.3 2275.8,1872.4 2276.7,1872.6 2277.6,1870.3 2278.6,1870.9 2279.5,1869.2 2280.4,1864.3 2281.4,1867.8 2282.3,1868.5 2283.2,1868.7 2284.2,1881.2 2285.1,1880.3 2286.1,1879.5 2287.0,1884.2 2288.0,1889.6 2289.0,1889.7 2290.0,1890.1 2291.0,1892.6 2292.0,1893.5 2293.0,1897.3 2294.0,1896.9 2295.0,1901.8 2296.0,1897.5 2297.0,1899.1 2298.0,1894.5 2299.0,1893.7 2300.0,1895.6 2301.0,1895.5 2302.0,1893.0 2303.0,1890.1 2306.0,1885.0 2309.0,1875.0 2311.5,1832.0 2314.2,1772.0 2317.8,1702.0 2321.3,1770.0 2324.4,1830.0 2326.5,1875.0 2329.0,1898.0 2334.0,1910.0 2340.0,1913.0 2347.0,1910.0 2353.0,1913.0 2358.0,1920.0 2363.0,1925.0 2368.0,1930.0" fill="none" stroke="#000000" stroke-width="12" stroke-linejoin="round" stroke-linecap="butt" />
<polyline points="212.0,1177.0 213.0,1178.7 214.0,1175.1 215.0,1190.9 216.0,1176.9 217.0,1174.8 218.0,1175.3 219.0,1170.3 220.0,1168.7 221.0,1175.3 222.0,1171.6 223.0,1178.2 224.0,1174.4 225.0,1168.0 226.0,1170.9 227.0,1173.9 228.0,1169.5 229.0,1179.1 230.0,1179.0 231.0,1185.5 232.0,1178.0 233.0,1181.5 234.0,1185.7 235.0,1187.0 236.0,1179.4 237.0,1191.6 238.0,1182.2 239.0,1191.2 240.0,1184.8 241.0,1184.8 242.0,1181.5 243.0,1187.2 244.0,1199.3 245.0,1185.8 246.0,1196.4 247.0,1196.0 248.0,1188.6 249.0,1196.0 250.0,1197.8 251.0,1190.5 252.0,1190.0 253.0,1198.1 254.0,1195.1 255.0,1203.8 256.0,1195.5 257.0,1187.6 258.0,1192.2 259.0,1186.4 260.0,1194.8 261.0,1194.0 262.0,1188.3 263.0,1185.6 264.0,1193.2 265.0,1186.8 266.0,1193.7 267.0,1182.9 268.0,1185.7 269.0,1183.9 270.0,1181.0 271.0,1197.9 272.0,1192.5 273.0,1181.3 274.0,1187.3 275.0,1174.8 276.0,1188.4 277.0,1187.0 278.0,1181.3 279.0,1182.2 280.0,1185.9 281.0,1187.7 282.0,1184.9 283.0,1183.5 284.0,1187.1 285.0,1187.2 286.0,1193.7 287.0,1191.4 288.0,1191.2 289.0,1181.5 290.0,1186.6 291.0,1185.6 292.0,1184.1 293.0,1185.1 294.0,1183.4 295.0,1176.8 296.0,1187.3 297.0,1186.3 298.0,1179.4 299.0,1184.5 300.0,1177.1 301.0,1175.3 302.0,1180.0 303.0,1187.9 304.0,1180.0 305.0,1173.2 306.0,1181.2 307.0,1177.2 308.0,1176.3 309.0,1181.1 310.0,1171.2 311.0,1170.7 312.0,1172.0 313.0,1183.6 314.0,1178.8 315.0,1175.3 316.0,1175.5 317.0,1182.3 318.0,1185.5 319.0,1176.9 320.0,1182.1 321.0,1192.3 322.0,1184.7 323.0,1180.9 324.0,1184.6 325.0,1184.0 326.0,1187.2 327.0,1186.3 328.0,1182.9 329.0,1185.1 330.0,1188.0 331.0,1182.8 332.0,1186.1 333.0,1181.3 334.0,1191.0 335.0,1192.2 336.0,1180.7 337.0,1188.4 338.0,1185.0 339.0,1184.4 340.0,1182.6 341.0,1184.7 342.0,1187.9 343.0,1177.3 344.0,1187.4 345.0,1181.3 346.0,1177.2 347.0,1181.8 348.0,1184.7 349.0,1181.1 350.0,1182.6 351.0,1178.8 352.0,1177.0 353.0,1183.3 354.0,1173.5 355.0,1181.5 356.0,1177.6 357.0,1173.9 358.0,1173.3 359.0,1172.1 360.0,1172.4 361.0,1171.5 362.0,1170.2 363.0,1161.1 364.0,1159.4 365.0,1169.8 366.0,1166.1 367.0,1167.1 368.0,1169.7 369.0,1166.1 370.0,1179.0 371.0,1172.6 372.0,1172.6 373.0,1169.3 374.0,1178.9 375.0,1178.9 376.0,1183.1 377.0,1181.2 378.0,1174.1 379.0,1172.7 380.0,1185.5 381.0,1176.0 382.0,1178.4 383.0,1177.9 384.0,1180.7 385.0,1180.7 386.0,1173.3 387.0,1174.9 388.0,1169.7 389.0,1179.9 390.0,1176.4 391.0,1169.3 392.0,1181.5 393.0,1176.6 394.0,1171.7 395.0,1174.2 396.0,1173.2 397.0,1176.2 398.0,1176.4 399.0,1172.7 400.0,1177.3 401.0,1163.6 402.0,1173.9 403.0,1178.5 404.0,1180.0 405.0,1179.4 406.0,1171.1 407.0,1168.2 408.0,1174.4 409.0,1186.4 410.0,1177.3 411.0,1172.8 412.0,1168.7 413.0,1175.8 414.0,1172.1 415.0,1175.3 416.0,1172.8 417.0,1160.2 418.0,1169.2 419.0,1172.3 420.0,1164.9 421.0,1161.1 422.0,1160.2 423.0,1158.4 424.0,1173.2 425.0,1168.6 426.0,1159.8 427.0,1169.0 428.0,1158.3 429.0,1161.0 430.0,1160.3 431.0,1163.2 432.0,1167.3 433.0,1173.8 434.0,1168.2 435.0,1164.7 436.0,1167.4 437.0,1167.1 438.0,1171.2 439.0,1167.1 440.0,1173.6 441.0,1176.0 442.0,1179.7 443.0,1173.1 444.0,1180.2 445.0,1181.0 446.0,1177.5 447.0,1170.9 448.0,1176.0 449.0,1181.1 450.0,1174.6 451.0,1184.8 452.0,1175.7 453.0,1168.6 454.0,1170.1 455.0,1171.3 459.5,1160.0 462.5,1140.0 465.2,1100.0 468.0,1040.0 470.8,981.0 473.5,1045.0 476.2,1100.0 479.0,1140.0 482.0,1165.0 485.0,1185.0 486.0,1190.3 487.0,1190.1 488.0,1196.2 489.0,1210.5 490.0,1204.3 491.0,1199.9 492.0,1196.0 493.0,1189.1 494.0,1197.0 495.0,1193.3 496.0,1194.0 497.0,1190.7 498.0,1198.3 499.0,1201.2 500.0,1194.9 501.0,1193.5 502.0,1202.7 503.0,1209.1 504.0,1206.3 505.0,1208.3 506.0,1201.4 507.0,1206.8 508.0,1213.5 509.0,1214.2 510.0,1214.1 511.0,1215.2 512.0,1214.9 513.0,1209.9 514.0,1204.8 515.0,1200.2 516.0,1205.9 517.0,1202.7 518.0,1201.1 519.0,1205.3 520.0,1195.9 521.0,1196.1 522.0,1198.7 523.0,1190.2 524.0,1183.1 525.0,1188.7 526.0,1195.2 527.0,1189.2 528.0,1191.2 529.0,1184.4 530.0,1198.5 531.0,1185.7 532.0,1191.0 533.0,1193.5 534.0,1203.4 535.0,1195.6 536.0,1192.3 537.0,1189.3 538.0,1195.0 539.0,1191.2 540.0,1194.4 541.0,1199.0 542.0,1205.9 543.0,1197.2 544.0,1209.9 545.0,1196.8 546.0,1215.8 547.0,1205.9 548.0,1208.8 549.0,1210.0 552.0,1216.0 555.0,1212.0 558.0,1200.0 560.5,1175.0 563.2,1130.0 566.0,1080.0 569.0,1010.0 572.5,935.0 575.2,1020.0 578.0,1130.0 580.5,1210.0 583.0,1245.0 586.7,1272.0 592.0,1280.0 593.0,1281.4 594.0,1280.4 595.0,1279.5 596.0,1278.1 597.0,1279.1 598.0,1282.0 599.0,1279.7 600.0,1279.9 601.0,1277.5 602.0,1282.9 603.0,1284.8 604.0,1282.5 605.0,1292.6 606.0,1292.0 607.0,1295.5 608.0,1294.2 609.0,1307.2 610.0,1314.5 611.0,1320.2 612.0,1314.8 613.0,1320.1 614.0,1326.3 615.0,1328.9 616.0,1325.9 617.0,1329.3 618.0,1333.5 619.0,1333.0 620.0,1331.9 621.0,1336.7 622.0,1328.9 623.0,1336.6 624.0,1333.8 625.0,1335.8 626.0,1340.5 627.0,1344.3 628.0,1340.5 629.0,1339.9 630.0,1345.8 631.0,1343.3 632.0,1333.7 633.0,1339.8 634.0,1340.2 635.0,1340.8 636.0,1338.6 637.0,1346.6 638.0,1345.5 639.0,1351.5 640.0,1345.2 641.0,1347.2 642.0,1344.8 643.0,1351.5 644.0,1352.9 645.0,1354.9 646.0,1353.3 647.0,1348.4 648.0,1355.1 649.0,1348.4 650.0,1350.0 651.0,1350.8 652.0,1357.9 653.0,1347.5 654.0,1345.8 655.0,1349.3 656.0,1351.8 657.0,1348.9 658.0,1348.1 659.0,1342.6 660.0,1343.4 661.0,1348.3 662.0,1343.6 663.0,1341.9 664.0,1343.9 665.0,1350.7 666.0,1352.9 667.0,1349.3 668.0,1346.1 669.0,1355.6 670.0,1348.6 671.0,1352.1 672.0,1354.1 673.0,1353.6 674.0,1354.0 675.0,1361.0 676.0,1357.5 677.0,1352.5 678.0,1356.3 679.0,1363.8 680.0,1359.6 681.0,1356.8 682.0,1363.6 683.0,1362.2 684.0,1360.8 685.0,1362.7 686.0,1359.6 687.0,1361.6 688.0,1363.0 689.0,1359.2 690.0,1365.5 691.0,1357.8 692.0,1368.5 693.0,1361.8 694.0,1362.9 695.0,1357.6 696.0,1364.5 697.0,1359.1 698.0,1363.7 699.0,1362.2 700.0,1359.5 701.0,1368.2 702.0,1362.6 703.0,1360.1 704.0,1360.5 705.0,1362.7 706.0,1361.6 707.0,1364.2 708.0,1359.2 709.0,1361.8 710.0,1359.2 711.0,1358.4 712.0,1363.4 713.0,1357.7 714.0,1354.8 715.0,1362.5 716.0,1358.3 717.0,1361.9 718.0,1361.6 719.0,1361.4 720.0,1359.8 721.0,1364.7 722.0,1355.7 723.0,1363.1 724.0,1358.5 725.0,1359.8 726.0,1357.2 727.0,1361.4 728.0,1359.9 729.0,1356.6 730.0,1358.1 731.0,1359.4 732.0,1357.2 733.0,1365.9 734.0,1359.2 735.0,1355.8 736.0,1360.4 737.0,1357.7 738.0,1354.9 739.0,1355.3 740.0,1350.9 741.0,1358.8 742.0,1361.3 743.0,1355.8 744.0,1353.3 745.0,1350.1 746.0,1351.7 747.0,1355.7 748.0,1353.5 749.0,1355.0 750.0,1352.6 751.0,1354.9 752.0,1354.6 753.0,1354.5 754.0,1352.8 755.0,1351.7 756.0,1346.8 757.0,1347.2 758.0,1342.6 759.0,1343.6 760.0,1346.0 761.0,1348.4 762.0,1343.2 763.0,1345.3 764.0,1347.6 765.0,1346.1 766.0,1350.1 767.0,1351.2 768.0,1350.2 769.0,1359.0 770.0,1352.8 771.0,1355.0 772.0,1348.1 773.0,1356.9 774.0,1355.0 775.0,1354.6 776.0,1346.6 777.0,1353.5 778.0,1351.4 779.0,1354.9 780.0,1353.4 781.0,1351.6 782.0,1351.7 783.0,1357.4 784.0,1356.9 785.0,1347.3 786.0,1351.5 787.0,1355.0 788.0,1351.4 789.0,1353.8 790.0,1351.6 791.0,1358.1 792.0,1354.9 793.0,1351.8 794.0,1357.1 795.0,1354.5 796.0,1358.0 797.0,1350.7 798.0,1347.2 799.0,1355.0 800.0,1352.4 801.0,1346.3 802.0,1339.3 803.0,1352.6 804.0,1352.5 805.0,1349.5 806.0,1350.7 807.0,1352.6 808.0,1347.5 809.0,1356.5 810.0,1347.8 811.0,1352.4 812.0,1352.3 813.0,1350.6 814.0,1349.6 815.0,1355.1 816.0,1345.9 817.0,1350.4 818.0,1355.0 819.0,1346.0 820.0,1342.5 821.0,1345.1 822.0,1335.9 823.0,1342.4 824.0,1340.1 825.0,1340.4 826.0,1341.7 827.0,1348.3 828.0,1348.0 829.0,1346.0 830.0,1355.4 831.0,1349.3 832.0,1359.2 833.0,1352.1 834.0,1350.1 835.0,1351.3 836.0,1357.2 837.0,1352.3 838.0,1351.4 839.0,1345.4 840.0,1350.5 841.0,1349.1 842.0,1348.4 843.0,1346.6 844.0,1343.4 845.0,1352.7 846.0,1344.6 847.0,1349.5 848.0,1349.0 849.0,1347.1 850.0,1346.6 851.0,1348.5 852.0,1345.3 853.0,1346.4 854.0,1348.0 855.0,1347.8 856.0,1346.3 857.0,1338.3 858.0,1347.6 859.0,1343.7 860.0,1352.1 861.0,1352.6 862.0,1349.3 863.0,1349.6 864.0,1342.0 865.0,1348.5 866.0,1345.1 867.0,1352.7 868.0,1340.6 869.0,1351.4 870.0,1341.8 871.0,1334.2 872.0,1346.0 873.0,1337.7 874.0,1338.4 875.0,1342.6 876.0,1335.1 877.0,1340.5 878.0,1344.2 879.0,1349.8 880.0,1346.5 881.0,1347.6 882.0,1338.1 883.0,1344.4 884.0,1338.0 885.0,1338.4 886.0,1338.5 887.0,1336.2 888.0,1325.8 889.0,1324.6 890.0,1321.8 891.0,1324.8 892.0,1320.8 893.0,1326.9 894.0,1323.9 895.0,1329.3 896.0,1342.5 897.0,1337.4 898.0,1343.9 899.0,1345.8 900.0,1339.4 901.0,1344.6 902.0,1344.5 903.0,1346.2 904.0,1342.0 905.0,1348.3 906.0,1348.8 907.0,1344.9 908.0,1349.2 909.0,1350.4 910.0,1344.3 911.0,1349.2 912.0,1351.9 913.0,1350.7 914.0,1343.7 915.0,1344.2 916.0,1346.2 917.0,1346.8 918.0,1347.6 919.0,1344.4 920.0,1346.2 921.0,1340.5 922.0,1348.4 923.0,1340.1 924.0,1336.0 925.0,1335.9 926.0,1330.3 927.0,1332.5 930.0,1316.0 933.0,1290.0 936.0,1271.0 939.0,1290.0 942.0,1316.0 946.0,1338.0 947.0,1340.0 948.0,1345.7 949.0,1350.9 950.0,1347.1 951.0,1348.2 952.0,1353.8 953.0,1355.7 954.0,1355.5 955.0,1354.5 956.0,1350.4 957.0,1353.2 958.0,1348.2 959.0,1349.6 960.0,1354.8 961.0,1354.4 962.0,1346.6 963.0,1348.1 964.0,1349.1 965.0,1339.4 966.0,1339.3 967.0,1342.7 968.0,1338.8 969.0,1349.3 970.0,1347.6 971.0,1348.0 972.0,1350.1 973.0,1350.7 974.0,1348.1 975.0,1343.1 976.0,1348.6 977.0,1343.7 978.0,1345.7 979.0,1341.4 980.0,1343.0 981.0,1338.9 982.0,1345.9 983.0,1345.7 984.0,1351.7 985.0,1346.6 986.0,1347.6 987.0,1354.3 988.0,1344.7 989.0,1353.2 990.0,1350.4 991.0,1348.7 992.0,1350.2 993.0,1348.5 994.0,1345.9 995.0,1351.1 996.0,1345.2 997.0,1348.3 998.0,1346.8 999.0,1344.5 1000.0,1344.5 1001.0,1347.2 1002.0,1344.6 1003.0,1350.5 1004.0,1348.9 1005.0,1344.5 1006.0,1349.6 1007.0,1338.2 1008.0,1352.1 1009.0,1341.9 1010.0,1342.1 1011.0,1350.3 1012.0,1341.0 1013.0,1344.2 1014.0,1347.8 1015.0,1339.8 1016.0,1345.9 1017.0,1349.1 1018.0,1343.1 1019.0,1350.2 1020.0,1341.7 1021.0,1349.2 1022.0,1345.3 1023.0,1343.9 1024.0,1342.3 1025.0,1339.3 1026.0,1345.9 1027.0,1337.8 1028.0,1340.8 1029.0,1342.3 1030.0,1340.4 1031.0,1340.2 1032.0,1334.7 1033.0,1331.5 1034.0,1335.6 1035.0,1333.3 1036.0,1336.5 1037.0,1325.1 1038.0,1332.4 1039.0,1334.4 1040.0,1332.1 1041.0,1328.7 1042.0,1335.0 1043.0,1339.1 1044.0,1333.8 1045.0,1333.6 1046.0,1333.9 1047.0,1334.6 1048.0,1332.5 1049.0,1349.9 1050.0,1339.0 1051.0,1342.2 1052.0,1340.6 1053.0,1333.0 1054.0,1335.3 1055.0,1337.9 1056.0,1334.6 1057.0,1331.9 1058.0,1324.3 1059.0,1322.9 1060.0,1323.7 1061.0,1327.2 1062.0,1320.0 1063.0,1325.2 1064.0,1327.4 1065.0,1326.7 1066.0,1324.4 1067.0,1322.7 1068.0,1327.8 1069.0,1324.8 1070.0,1327.7 1071.0,1325.2 1072.0,1325.6 1073.0,1326.4 1074.0,1325.0 1075.0,1332.1 1076.0,1323.3 1077.0,1328.3 1078.0,1324.5 1079.0,1326.6 1080.0,1318.3 1081.0,1323.0 1082.0,1322.1 1083.0,1325.8 1084.0,1323.4 1085.0,1320.3 1086.0,1317.2 1087.0,1316.1 1088.0,1318.0 1089.0,1317.5 1090.0,1313.5 1091.0,1314.1 1092.0,1303.4 1093.0,1310.3 1094.0,1312.3 1095.0,1304.4 1096.0,1298.8 1097.0,1302.2 1098.0,1287.8 1099.0,1295.0 1100.0,1283.6 1101.0,1286.0 1102.0,1277.1 1103.0,1284.3 1104.0,1277.6 1105.0,1273.5 1106.0,1273.6 1107.0,1276.5 1108.0,1275.2 1109.0,1268.9 1110.0,1268.8 1111.0,1276.1 1112.0,1272.8 1113.0,1271.8 1114.0,1281.7 1115.0,1271.7 1116.0,1280.3 1117.0,1286.7 1118.0,1284.7 1119.0,1286.1 1120.0,1289.7 1121.0,1284.5 1122.0,1289.1 1123.0,1290.3 1124.0,1295.2 1125.0,1294.6 1126.0,1294.6 1130.0,1305.0 1133.0,1320.0 1136.0,1330.0 1138.7,1300.0 1141.3,1230.0 1144.0,1170.0 1146.6,1130.0 1149.3,1105.0 1152.0,1230.0 1155.0,1320.0 1158.0,1346.0 1160.7,1330.0 1163.4,1260.0 1166.1,1130.0 1169.0,990.0 1171.7,1150.0 1174.4,1320.0 1177.0,1440.0 1180.0,1510.0 1184.0,1555.0 1187.0,1578.0 1190.0,1587.0 1192.5,1555.0 1195.0,1522.0 1198.0,1550.0 1201.0,1585.0 1206.0,1602.0 1210.0,1627.0 1211.0,1631.0 1212.0,1633.6 1213.0,1635.0 1214.0,1636.6 1215.0,1638.3 1216.0,1642.4 1217.0,1642.4 1218.0,1644.8 1219.0,1644.5 1220.0,1644.1 1221.0,1644.9 1222.0,1641.7 1222.9,1640.0 1223.8,1640.8 1224.8,1640.2 1225.7,1636.7 1226.6,1636.5 1227.5,1638.9 1228.4,1639.6 1229.3,1637.5 1230.2,1640.3 1231.2,1641.1 1232.1,1643.6 1233.0,1643.3 1234.0,1644.3 1235.0,1645.9 1236.0,1648.0 1237.0,1649.0 1238.0,1648.5 1239.0,1648.8 1240.0,1648.4 1241.0,1645.9 1242.0,1646.6 1243.0,1648.6 1244.0,1649.2 1245.0,1649.8 1246.0,1650.6 1247.0,1648.9 1248.0,1649.4 1249.0,1648.2 1250.0,1650.7 1251.0,1650.6 1252.0,1650.7 1253.0,1651.0 1254.0,1651.1 1255.0,1645.8 1256.0,1645.3 1257.0,1647.3 1258.0,1646.7 1259.0,1653.8 1260.0,1651.5 1261.0,1653.9 1262.0,1657.9 1263.0,1653.0 1264.0,1653.7 1265.0,1653.2 1266.0,1662.0 1267.0,1661.2 1268.0,1659.8 1269.0,1660.6 1270.0,1662.0 1271.0,1662.1 1272.0,1661.9 1273.0,1662.3 1274.0,1665.0 1275.0,1664.3 1276.0,1664.8 1277.0,1662.9 1278.0,1663.2 1279.0,1661.9 1280.0,1661.0 1281.0,1658.4 1282.0,1657.9 1283.0,1658.4 1284.0,1650.9 1285.0,1646.8 1286.0,1645.8 1287.0,1642.9 1289.0,1655.0 1292.0,1635.0 1295.0,1600.0 1298.0,1552.0 1300.7,1600.0 1303.5,1645.0 1306.5,1668.0 1309.0,1676.0 1310.0,1678.3 1311.0,1678.5 1312.0,1673.2 1313.0,1675.0 1314.0,1673.4 1315.0,1679.5 1316.0,1676.6 1317.0,1676.2 1318.0,1679.0 1319.0,1678.8 1320.0,1675.8 1321.0,1677.8 1322.0,1678.3 1323.0,1675.3 1324.0,1677.1 1325.0,1677.3 1326.0,1675.3 1327.0,1675.5 1328.0,1675.9 1329.0,1675.6 1330.0,1673.8 1331.0,1675.9 1332.0,1674.6 1333.0,1673.7 1334.0,1674.3 1335.0,1670.2 1336.0,1671.2 1337.0,1669.2 1338.0,1669.5 1339.0,1671.7 1340.0,1670.3 1341.0,1672.7 1342.0,1673.8 1343.0,1675.7 1344.0,1676.0 1345.0,1679.0 1346.0,1680.0 1347.0,1682.6 1348.0,1680.2 1349.0,1683.1 1350.0,1680.0 1351.0,1680.9 1352.0,1680.8 1353.0,1681.1 1354.0,1679.3 1355.0,1680.2 1356.0,1679.2 1357.0,1676.8 1358.0,1679.1 1359.0,1682.2 1360.0,1683.4 1361.0,1685.0 1362.0,1688.0 1363.0,1689.7 1364.0,1692.1 1365.0,1693.2 1366.0,1691.8 1367.0,1696.0 1368.0,1694.5 1369.0,1696.5 1370.0,1694.5 1371.0,1698.0 1372.0,1699.8 1373.0,1702.7 1374.0,1702.8 1375.0,1704.5 1376.0,1696.7 1377.0,1697.6 1378.0,1697.8 1379.0,1695.5 1380.0,1696.3 1381.0,1695.0 1382.0,1694.6 1383.0,1693.6 1384.0,1699.1 1385.0,1702.3 1386.0,1701.5 1387.0,1695.0 1388.0,1694.1 1389.0,1694.1 1390.0,1696.7 1391.0,1698.4 1392.0,1697.9 1393.0,1698.9 1394.0,1698.2 1395.0,1701.2 1396.0,1700.7 1397.0,1699.9 1398.0,1698.3 1399.0,1697.7 1400.0,1698.5 1401.0,1698.1 1402.0,1699.7 1403.0,1697.5 1404.0,1692.5 1405.0,1691.7 1406.0,1695.3 1407.0,1695.3 1408.0,1696.0 1409.0,1695.0 1410.0,1694.4 1411.0,1691.0 1412.0,1688.8 1413.0,1691.5 1414.0,1691.4 1415.0,1690.0 1416.0,1686.4 1417.0,1691.0 1418.0,1691.6 1419.0,1692.0 1420.0,1693.7 1421.0,1691.5 1422.0,1695.4 1423.0,1693.4 1424.0,1695.5 1425.0,1696.1 1426.0,1698.1 1427.0,1695.9 1428.0,1695.5 1429.0,1699.0 1430.0,1695.8 1431.0,1697.4 1432.0,1697.0 1433.0,1698.2 1434.0,1696.8 1435.0,1695.6 1436.0,1697.2 1437.0,1696.9 1438.0,1691.0 1439.0,1689.1 1440.0,1690.5 1441.0,1691.2 1442.0,1696.3 1443.0,1690.3 1444.0,1691.5 1445.0,1697.5 1446.0,1695.3 1447.0,1698.9 1448.0,1697.5 1449.0,1696.3 1450.0,1697.1 1451.0,1696.0 1452.0,1696.2 1453.0,1696.0 1454.0,1696.9 1455.0,1695.6 1456.0,1695.7 1457.0,1695.5 1458.0,1697.9 1459.0,1695.7 1460.0,1695.6 1461.0,1696.9 1462.0,1696.1 1463.0,1697.2 1464.0,1695.2 1465.0,1696.9 1466.0,1695.3 1467.0,1696.5 1468.0,1696.0 1469.0,1695.5 1470.0,1693.7 1471.0,1696.0 1472.0,1695.1 1473.0,1697.3 1474.0,1694.1 1475.0,1696.4 1476.0,1696.9 1477.0,1694.0 1478.0,1697.2 1479.0,1695.5 1480.0,1695.6 1481.0,1695.2 1482.0,1695.3 1483.0,1695.7 1484.0,1694.6 1485.0,1694.0 1486.0,1696.5 1487.0,1695.5 1488.0,1693.5 1489.0,1697.8 1490.0,1696.4 1491.0,1695.2 1492.0,1695.6 1493.0,1694.2 1494.0,1695.3 1495.0,1696.7 1496.0,1695.9 1497.0,1695.8 1498.0,1697.5 1499.0,1694.5 1500.0,1693.9 1501.0,1694.6 1502.0,1694.5 1503.0,1695.3 1504.0,1694.4 1505.0,1693.9 1506.0,1693.9 1507.0,1695.5 1508.0,1696.0 1509.0,1702.6 1510.0,1700.0 1511.0,1701.9 1512.0,1701.6 1513.0,1694.4 1514.0,1694.7 1515.0,1694.4 1516.0,1696.0 1517.0,1693.7 1518.0,1692.8 1519.0,1692.5 1520.0,1690.6 1521.0,1691.8 1522.0,1692.1 1523.0,1692.3 1524.0,1688.2 1525.0,1689.2 1526.0,1690.3 1527.0,1689.8 1528.0,1690.6 1529.0,1696.5 1530.0,1695.6 1531.0,1693.0 1532.0,1694.0 1533.0,1693.5 1534.0,1693.2 1535.0,1692.0 1536.0,1691.8 1537.0,1694.1 1538.0,1689.0 1539.0,1690.3 1540.0,1695.1 1541.0,1696.7 1542.0,1688.5 1543.0,1685.9 1544.0,1685.8 1545.0,1687.8 1546.0,1689.4 1547.0,1690.7 1548.0,1691.7 1549.0,1693.1 1550.0,1691.0 1551.0,1693.8 1552.0,1695.1 1553.0,1694.9 1554.0,1703.4 1555.0,1704.2 1556.0,1705.8 1557.0,1697.8 1558.0,1699.2 1559.0,1697.9 1560.0,1697.2 1561.0,1696.1 1562.0,1697.0 1563.0,1696.8 1564.0,1694.8 1565.0,1696.5 1566.0,1693.8 1567.0,1694.3 1568.0,1696.5 1569.0,1693.7 1570.0,1694.7 1571.0,1695.5 1572.0,1694.1 1573.0,1695.2 1574.0,1695.5 1575.0,1694.2 1576.0,1697.5 1577.0,1695.3 1578.0,1697.7 1579.0,1693.4 1580.0,1692.6 1581.0,1693.3 1582.0,1698.5 1583.0,1698.6 1584.0,1698.1 1585.0,1704.1 1586.0,1703.9 1587.0,1702.5 1588.0,1704.3 1589.0,1702.0 1590.0,1697.7 1591.0,1702.0 1592.0,1700.1 1593.0,1698.0 1594.0,1700.0 1595.0,1699.7 1596.0,1698.6 1597.0,1699.3 1598.0,1698.7 1599.0,1698.1 1600.0,1700.6 1601.0,1697.6 1602.0,1700.3 1603.0,1699.5 1604.0,1699.7 1605.0,1696.8 1606.0,1701.1 1607.0,1700.0 1608.0,1700.1 1609.0,1700.6 1610.0,1700.5 1611.0,1700.7 1612.0,1698.7 1613.0,1698.8 1614.0,1698.9 1615.0,1698.3 1616.0,1697.7 1617.0,1697.1 1618.0,1697.9 1619.0,1695.6 1620.0,1697.5 1621.0,1696.4 1622.0,1695.9 1623.0,1694.3 1624.0,1693.6 1625.0,1694.7 1626.0,1695.2 1627.0,1693.8 1628.0,1692.6 1629.0,1691.9 1630.0,1692.3 1631.0,1693.0 1632.0,1693.1 1633.0,1692.3 1634.0,1693.1 1635.0,1691.6 1636.0,1692.4 1637.0,1691.4 1638.0,1691.9 1639.0,1694.4 1640.0,1694.2 1641.0,1693.1 1642.0,1689.3 1643.0,1686.1 1644.0,1686.5 1645.0,1686.7 1646.0,1689.5 1647.0,1688.7 1648.0,1691.8 1649.0,1694.3 1650.0,1695.2 1651.0,1693.9 1652.0,1694.9 1653.0,1696.8 1654.0,1697.6 1655.0,1698.9 1656.0,1697.4 1657.0,1700.0 1658.0,1698.2 1659.0,1697.9 1660.0,1698.8 1661.0,1699.2 1662.0,1698.9 1663.0,1699.1 1664.0,1698.3 1665.0,1698.7 1666.0,1697.4 1667.0,1694.9 1668.0,1698.3 1669.0,1697.0 1670.0,1698.6 1671.0,1699.0 1672.0,1697.0 1673.0,1697.0 1674.0,1696.6 1675.0,1695.4 1676.0,1696.0 1677.0,1695.7 1678.0,1695.2 1679.0,1696.6 1680.0,1697.1 1681.0,1695.1 1682.0,1695.2 1683.0,1696.1 1684.0,1692.9 1685.0,1693.3 1686.0,1695.8 1687.0,1693.3 1688.0,1695.2 1689.0,1694.1 1690.0,1693.7 1691.0,1694.2 1692.0,1692.7 1693.0,1692.9 1694.0,1694.0 1695.0,1693.9 1696.0,1692.9 1697.0,1694.8 1698.0,1696.1 1699.0,1695.6 1700.0,1696.9 1701.0,1696.2 1702.0,1699.2 1703.0,1696.8 1704.0,1700.1 1705.0,1700.7 1706.0,1698.6 1707.0,1699.2 1708.0,1697.4 1709.0,1700.1 1710.0,1698.4 1711.0,1697.0 1712.0,1697.7 1713.0,1693.6 1714.0,1694.0 1715.0,1691.6 1716.0,1695.5 1717.0,1696.5 1718.0,1696.8 1719.0,1695.4 1720.0,1694.8 1721.0,1696.5 1722.0,1694.7 1723.0,1696.1 1724.0,1694.2 1725.0,1695.4 1726.0,1696.7 1727.0,1695.1 1728.0,1693.8 1729.0,1693.1 1730.0,1692.3 1731.0,1693.3 1732.0,1694.5 1733.0,1695.3 1734.0,1693.2 1735.0,1693.0 1736.0,1693.7 1737.0,1692.8 1738.0,1691.9 1739.0,1691.1 1740.0,1690.5 1741.0,1691.1 1742.0,1691.0 1743.0,1691.0 1744.0,1692.3 1745.0,1685.8 1746.0,1685.0 1747.0,1684.4 1748.0,1686.3 1749.0,1692.1 1750.0,1692.7 1751.0,1693.4 1752.0,1692.7 1753.0,1694.5 1754.0,1696.1 1755.0,1696.3 1756.0,1694.4 1757.0,1694.6 1758.0,1693.9 1759.0,1695.9 1760.0,1694.9 1761.0,1696.3 1762.0,1693.1 1763.0,1694.0 1764.0,1693.5 1765.0,1694.3 1766.0,1693.0 1767.0,1692.6 1768.0,1692.5 1769.0,1694.5 1770.0,1693.2 1771.0,1695.0 1772.0,1696.6 1773.0,1696.9 1774.0,1699.0 1775.0,1698.4 1776.0,1698.8 1777.0,1697.8 1778.0,1697.0 1779.0,1696.6 1780.0,1696.1 1781.0,1696.7 1782.0,1694.5 1783.0,1693.9 1784.0,1695.3 1785.0,1691.9 1786.0,1691.0 1787.0,1692.6 1788.0,1689.2 1789.0,1691.0 1790.0,1689.7 1791.0,1690.3 1792.0,1688.7 1793.0,1687.4 1794.0,1687.4 1795.0,1685.3 1796.0,1680.1 1797.0,1675.1 1798.0,1677.8 1799.0,1686.5 1800.0,1689.1 1801.0,1683.7 1802.0,1683.4 1803.0,1686.3 1804.0,1690.0 1805.0,1694.3 1806.0,1694.5 1807.0,1695.5 1808.0,1696.2 1809.0,1698.3 1810.0,1696.3 1811.0,1697.5 1812.0,1697.6 1813.0,1697.8 1814.0,1695.4 1815.0,1695.4 1816.0,1697.9 1817.0,1696.1 1818.0,1696.6 1819.0,1696.8 1820.0,1694.4 1821.0,1694.9 1822.0,1695.3 1823.0,1696.7 1824.0,1695.6 1825.0,1697.3 1826.0,1696.6 1827.0,1695.5 1828.0,1693.5 1829.0,1696.2 1830.0,1696.3 1831.0,1695.1 1832.0,1695.0 1833.0,1694.6 1834.0,1695.2 1835.0,1696.1 1836.0,1694.3 1837.0,1692.4 1838.0,1693.0 1839.0,1691.3 1840.0,1693.8 1841.0,1690.1 1842.0,1692.2 1843.0,1685.2 1844.0,1683.1 1845.0,1682.2 1846.0,1687.9 1847.0,1683.7 1848.0,1681.1 1849.0,1680.5 1850.0,1681.3 1851.0,1683.3 1852.0,1685.2 1853.0,1689.2 1854.0,1688.6 1855.0,1688.0 1856.0,1689.9 1857.0,1690.5 1858.0,1690.2 1859.0,1690.9 1860.0,1693.7 1861.0,1693.0 1862.0,1690.7 1863.0,1683.5 1864.0,1685.6 1865.0,1691.3 1866.0,1691.7 1867.0,1690.7 1868.0,1686.9 1869.0,1688.3 1870.0,1687.2 1871.0,1687.5 1872.0,1690.2 1873.0,1692.8 1874.0,1691.5 1875.0,1689.9 1876.0,1690.3 1877.0,1692.6 1878.0,1691.5 1879.0,1692.7 1880.0,1692.8 1881.0,1692.7 1882.0,1686.4 1883.0,1686.5 1884.0,1686.3 1885.0,1693.0 1886.0,1694.6 1887.0,1692.5 1888.0,1692.4 1889.0,1690.6 1890.0,1693.6 1891.0,1693.6 1892.0,1693.6 1893.0,1692.7 1894.0,1693.2 1895.0,1692.7 1896.0,1693.4 1897.0,1696.2 1898.0,1692.5 1899.0,1695.7 1900.0,1694.7 1901.0,1692.8 1902.0,1695.4 1903.0,1692.7 1904.0,1688.2 1905.0,1688.6 1906.0,1686.4 1907.0,1692.4 1908.0,1693.1 1909.0,1692.3 1910.0,1691.5 1911.0,1692.3 1912.0,1692.7 1913.0,1689.3 1914.0,1691.6 1915.0,1689.8 1916.0,1688.4 1917.0,1689.3 1918.0,1687.8 1919.0,1691.2 1920.0,1689.6 1921.0,1691.4 1922.0,1688.9 1923.0,1687.6 1924.0,1687.7 1925.0,1689.2 1926.0,1688.8 1927.0,1688.8 1928.0,1687.4 1929.0,1687.6 1930.0,1686.5 1931.0,1685.8 1932.0,1686.9 1933.0,1686.1 1934.0,1688.1 1935.0,1687.5 1936.0,1687.8 1937.0,1690.5 1938.0,1687.7 1939.0,1689.0 1940.0,1689.5 1941.0,1687.8 1942.0,1688.7 1943.0,1689.3 1944.0,1689.6 1945.0,1690.4 1946.0,1688.7 1947.0,1690.8 1948.0,1690.1 1949.0,1692.3 1950.0,1692.6 1951.0,1689.6 1952.0,1688.7 1953.0,1692.9 1954.0,1691.4 1955.0,1689.5 1956.0,1689.9 1957.0,1687.9 1958.0,1689.6 1959.0,1689.9 1960.0,1689.3 1961.0,1688.6 1962.0,1688.1 1963.0,1686.6 1964.0,1688.0 1965.0,1680.4 1966.0,1681.9 1967.0,1680.2 1968.0,1683.2 1969.0,1686.7 1970.0,1684.5 1971.0,1685.9 1972.0,1685.9 1973.0,1688.2 1974.0,1687.2 1975.0,1686.1 1976.0,1688.6 1977.0,1685.6 1978.0,1685.8 1979.0,1686.7 1980.0,1688.0 1981.0,1687.6 1982.0,1688.7 1983.0,1685.4 1984.0,1687.4 1985.0,1686.6 1986.0,1686.6 1987.0,1686.7 1988.0,1685.8 1989.0,1686.0 1990.0,1685.6 1991.0,1685.0 1992.0,1683.4 1993.0,1684.8 1994.0,1683.9 1995.0,1684.4 1996.0,1685.8 1997.0,1683.1 1998.0,1684.1 1999.0,1683.6 2000.0,1683.0 2001.0,1682.5 2002.0,1681.8 2003.0,1680.5 2004.0,1679.5 2005.0,1675.8 2006.0,1672.4 2007.0,1674.8 2008.0,1680.5 2009.0,1681.6 2010.0,1683.1 2011.0,1683.5 2012.0,1683.1 2013.0,1682.7 2014.0,1682.7 2015.0,1683.3 2016.0,1681.4 2017.0,1684.8 2018.0,1684.1 2019.0,1683.4 2020.0,1680.8 2021.0,1680.2 2022.0,1678.5 2023.0,1679.4 2024.0,1673.2 2025.0,1671.4 2026.0,1664.6 2027.0,1663.5 2028.0,1660.9 2029.0,1652.4 2030.0,1653.5 2031.0,1654.4 2032.0,1664.7 2033.0,1665.9 2034.0,1664.0 2035.0,1668.0 2036.0,1666.7 2037.0,1668.0 2038.0,1669.2 2039.0,1670.0 2040.0,1671.7 2041.0,1671.5 2042.0,1670.9 2043.0,1672.6 2044.0,1672.1 2045.0,1673.8 2046.0,1671.0 2047.0,1671.8 2048.0,1675.6 2049.0,1676.5 2050.0,1678.3 2051.0,1678.6 2052.0,1677.4 2053.0,1682.4 2054.0,1682.9 2055.0,1683.0 2056.0,1684.4 2057.0,1688.3 2058.0,1687.0 2059.0,1686.7 2060.0,1688.6 2061.0,1687.4 2062.0,1688.0 2063.0,1688.3 2064.0,1687.6 2065.0,1686.9 2066.0,1688.9 2067.0,1688.4 2068.0,1688.7 2069.0,1687.7 2070.0,1689.1 2071.0,1689.4 2072.0,1691.1 2073.0,1691.2 2074.0,1692.9 2075.0,1694.0 2076.0,1695.3 2077.0,1697.2 2078.0,1695.4 2079.0,1696.1 2080.0,1694.1 2081.0,1694.1 2082.0,1687.4 2083.0,1687.4 2084.0,1685.8 2085.0,1691.5 2086.0,1692.0 2087.0,1689.5 2088.0,1697.7 2089.0,1696.1 2090.0,1695.1 2091.0,1694.2 2092.0,1683.1 2093.0,1685.4 2094.0,1688.4 2095.0,1688.3 2096.0,1689.7 2097.0,1689.6 2098.0,1686.3 2099.0,1686.5 2100.0,1685.8 2101.0,1686.3 2102.0,1685.3 2103.0,1686.4 2104.0,1686.4 2105.0,1685.4 2106.0,1684.5 2107.0,1686.0 2108.0,1684.6 2109.0,1685.2 2110.0,1685.2 2111.0,1685.3 2112.0,1683.2 2113.0,1684.6 2114.0,1684.1 2115.0,1683.9 2116.0,1684.1 2117.0,1684.4 2118.0,1684.3 2119.0,1682.6 2120.0,1685.3 2121.0,1683.8 2122.0,1686.0 2123.0,1685.3 2124.0,1685.2 2125.0,1686.6 2126.0,1684.3 2127.0,1683.7 2128.0,1681.1 2129.0,1681.9 2130.0,1680.3 2131.0,1678.2 2132.0,1678.1 2133.0,1677.7 2134.0,1676.3 2135.0,1675.0 2136.0,1675.7 2137.0,1673.9 2138.0,1676.0 2139.0,1674.9 2140.0,1675.3 2141.0,1675.6 2142.0,1676.9 2143.0,1675.6 2144.0,1675.2 2145.0,1674.7 2146.0,1674.1 2147.0,1676.0 2148.0,1680.4 2149.0,1679.2 2150.0,1672.2 2151.0,1671.1 2152.0,1672.7 2153.0,1672.9 2154.0,1674.5 2155.0,1673.2 2156.0,1674.5 2157.0,1669.0 2158.0,1669.4 2159.0,1673.3 2160.0,1676.5 2161.0,1675.1 2162.0,1672.6 2163.0,1674.2 2164.0,1673.3 2165.0,1674.2 2166.0,1673.5 2167.0,1677.3 2168.0,1678.4 2169.0,1678.4 2170.0,1683.2 2171.0,1682.6 2172.0,1687.6 2173.0,1689.4 2174.0,1694.0 2175.0,1695.6 2176.0,1695.5 2177.0,1698.5 2178.0,1700.1 2179.0,1701.8 2180.0,1701.9 2181.0,1704.4 2182.0,1707.6 2183.0,1707.1 2184.0,1708.7 2185.0,1710.4 2186.0,1713.1 2187.0,1715.9 2188.0,1714.0 2189.0,1716.4 2190.0,1716.5 2191.0,1718.1 2192.0,1720.1 2193.0,1716.5 2194.0,1720.3 2195.0,1719.5 2196.0,1721.1 2197.0,1718.4 2198.0,1719.6 2199.0,1718.5 2200.0,1720.1 2201.0,1721.4 2202.0,1722.8 2203.0,1723.3 2204.0,1719.9 2205.0,1720.1 2206.0,1721.7 2207.0,1721.4 2208.0,1722.4 2209.0,1723.6 2210.0,1722.8 2211.0,1725.2 2212.0,1724.7 2213.0,1724.1 2214.0,1726.9 2215.0,1726.0 2216.0,1725.8 2217.0,1725.5 2218.0,1723.9 2219.0,1726.9 2220.0,1725.4 2221.0,1725.0 2222.0,1720.8 2223.0,1722.1 2224.0,1719.3 2225.0,1725.8 2226.0,1727.7 2227.0,1727.3 2228.0,1728.9 2229.0,1725.4 2230.0,1726.4 2231.0,1727.5 2232.0,1726.9 2233.0,1718.3 2234.0,1718.9 2235.0,1719.5 2236.0,1724.5 2237.0,1725.0 2238.0,1726.3 2239.0,1726.7 2240.0,1726.2 2241.0,1724.5 2242.0,1726.1 2243.0,1724.1 2244.0,1724.5 2245.0,1724.3 2246.0,1724.4 2247.0,1723.5 2248.0,1726.5 2249.0,1726.1 2250.0,1725.5 2251.0,1724.6 2252.0,1725.6 2253.0,1728.0 2254.0,1727.4 2255.0,1727.8 2256.0,1728.5 2257.0,1727.1 2258.0,1727.1 2259.0,1727.7 2260.0,1727.8 2261.0,1727.0 2262.0,1724.9 2263.0,1726.3 2264.0,1723.9 2265.0,1724.5 2266.0,1721.6 2267.0,1722.7 2268.0,1721.1 2269.0,1713.5 2270.0,1713.0 2271.0,1713.3 2272.0,1711.8 2273.0,1718.4 2274.0,1718.4 2275.0,1718.8 2276.0,1716.3 2277.0,1716.8 2278.0,1715.1 2279.0,1716.7 2280.0,1718.2 2281.0,1716.7 2282.0,1719.5 2283.0,1718.3 2284.0,1720.9 2285.0,1719.5 2286.0,1718.6 2287.0,1718.7 2288.0,1718.2 2289.0,1717.8 2290.0,1715.9 2291.0,1715.4 2292.0,1716.5 2293.0,1716.2 2294.0,1715.8 2295.0,1721.0 2296.0,1719.3 2297.0,1722.8 2298.0,1724.7 2299.0,1724.1 2300.0,1726.9 2301.0,1727.4 2306.0,1722.0 2309.0,1715.0 2311.5,1672.0 2314.2,1615.0 2318.0,1553.0 2321.3,1615.0 2324.4,1680.0 2326.5,1715.0 2330.0,1735.0 2336.0,1742.0 2342.0,1740.0 2348.0,1737.0 2355.0,1745.0 2363.0,1755.0 2368.0,1762.0" fill="none" stroke="#ea0000" stroke-width="12" stroke-linejoin="round" stroke-linecap="butt" />
<polyline points="212.0,1060.0 213.0,1054.8 214.0,1058.1 215.0,1062.6 216.0,1058.4 217.0,1056.6 218.0,1054.8 219.0,1065.2 220.0,1061.7 221.0,1060.1 222.0,1059.0 223.0,1052.1 224.0,1062.8 225.0,1057.9 226.0,1061.3 227.0,1067.6 228.0,1059.1 229.0,1059.6 230.0,1063.9 231.0,1058.4 232.0,1059.4 233.0,1053.3 234.0,1054.0 235.0,1050.4 236.0,1062.4 237.0,1064.2 238.0,1057.3 239.0,1059.5 240.0,1059.0 241.0,1073.2 242.0,1066.4 243.0,1062.1 244.0,1066.4 245.0,1069.8 246.0,1060.2 247.0,1068.0 248.0,1068.5 249.0,1066.6 250.0,1070.5 251.0,1071.7 252.0,1065.9 253.0,1063.5 254.0,1068.5 255.0,1064.5 256.0,1065.0 257.0,1071.1 258.0,1063.5 259.0,1060.9 260.0,1054.7 261.0,1061.4 262.0,1060.8 263.0,1061.1 264.0,1060.3 265.0,1060.3 266.0,1059.0 267.0,1059.2 268.0,1061.9 269.0,1057.0 270.0,1056.5 271.0,1057.1 272.0,1062.6 273.0,1055.1 274.0,1061.4 275.0,1063.4 276.0,1066.3 277.0,1061.1 278.0,1066.6 279.0,1067.2 280.0,1065.4 281.0,1068.7 282.0,1068.4 283.0,1065.0 284.0,1069.1 285.0,1067.3 286.0,1078.7 287.0,1068.6 288.0,1066.1 289.0,1061.7 290.0,1067.2 291.0,1068.0 292.0,1065.8 293.0,1058.9 294.0,1059.6 295.0,1058.5 296.0,1063.3 297.0,1058.0 298.0,1060.5 299.0,1067.8 300.0,1051.1 301.0,1058.2 302.0,1059.3 303.0,1052.9 304.0,1064.1 305.0,1058.4 306.0,1061.3 307.0,1062.3 308.0,1066.0 309.0,1057.1 310.0,1057.3 311.0,1054.5 312.0,1054.7 313.0,1068.1 314.0,1058.7 315.0,1053.5 316.0,1064.5 317.0,1069.6 318.0,1058.1 319.0,1062.6 320.0,1057.2 321.0,1054.9 322.0,1063.2 323.0,1059.3 324.0,1059.7 325.0,1065.4 326.0,1067.5 327.0,1065.3 328.0,1071.3 329.0,1062.4 330.0,1063.2 331.0,1068.1 332.0,1073.5 333.0,1072.1 334.0,1066.9 335.0,1062.8 336.0,1055.8 337.0,1067.6 338.0,1060.3 339.0,1070.4 340.0,1059.9 341.0,1050.6 342.0,1063.6 343.0,1058.9 344.0,1055.3 345.0,1057.9 346.0,1058.1 347.0,1060.3 348.0,1052.1 349.0,1060.9 350.0,1063.6 351.0,1057.1 352.0,1069.2 353.0,1063.7 354.0,1056.3 355.0,1073.2 356.0,1064.4 357.0,1066.2 358.0,1065.0 359.0,1074.4 360.0,1065.9 361.0,1062.5 362.0,1062.6 363.0,1067.9 364.0,1068.0 365.0,1062.3 366.0,1069.3 367.0,1062.0 368.0,1065.6 369.0,1067.2 370.0,1066.0 371.0,1065.8 372.0,1065.8 373.0,1062.2 374.0,1065.3 375.0,1065.7 376.0,1057.7 377.0,1055.7 378.0,1062.3 379.0,1059.7 380.0,1059.5 381.0,1060.9 382.0,1058.2 383.0,1053.0 384.0,1056.7 385.0,1050.1 386.0,1060.9 387.0,1057.9 388.0,1053.5 389.0,1050.6 390.0,1055.7 391.0,1052.9 392.0,1050.4 393.0,1056.0 394.0,1054.3 395.0,1057.7 396.0,1053.2 397.0,1062.5 398.0,1061.7 399.0,1047.2 400.0,1045.3 401.0,1049.8 402.0,1060.5 403.0,1056.3 404.0,1053.8 405.0,1054.1 406.0,1047.3 407.0,1053.2 408.0,1047.7 409.0,1052.9 410.0,1050.1 411.0,1049.0 412.0,1048.8 413.0,1053.4 414.0,1058.9 415.0,1042.7 416.0,1053.2 417.0,1048.0 418.0,1056.3 419.0,1054.3 420.0,1045.5 421.0,1049.3 422.0,1055.0 423.0,1055.8 424.0,1045.6 425.0,1041.8 426.0,1045.5 427.0,1048.1 428.0,1044.4 429.0,1039.7 430.0,1042.6 431.0,1044.6 432.0,1044.5 433.0,1042.3 434.0,1051.3 435.0,1050.4 436.0,1052.7 437.0,1048.9 438.0,1047.1 439.0,1052.9 440.0,1053.7 441.0,1058.0 442.0,1044.6 443.0,1048.7 444.0,1049.9 445.0,1060.7 446.0,1040.6 447.0,1054.2 448.0,1046.0 449.0,1044.3 450.0,1051.9 451.0,1051.0 452.0,1033.1 453.0,1041.0 454.0,1045.8 455.0,1043.0 459.5,1040.0 462.4,1015.0 465.1,975.0 467.8,925.0 470.5,878.0 473.2,930.0 475.9,975.0 478.6,1010.0 482.0,1040.0 487.0,1060.0 488.0,1070.1 489.0,1066.5 490.0,1074.0 491.0,1064.7 492.0,1075.7 493.0,1072.6 494.0,1074.8 495.0,1067.6 496.0,1077.8 497.0,1066.0 498.0,1075.6 499.0,1075.0 500.0,1062.1 501.0,1068.5 502.0,1066.3 503.0,1062.7 504.0,1074.5 505.0,1073.7 506.0,1081.0 507.0,1083.6 508.0,1070.6 509.0,1078.2 510.0,1082.8 511.0,1083.3 512.0,1078.8 513.0,1073.2 514.0,1074.1 515.0,1076.6 516.0,1066.6 517.0,1064.9 518.0,1063.7 519.0,1064.9 520.0,1072.1 521.0,1062.8 522.0,1068.4 523.0,1071.7 524.0,1071.5 525.0,1067.7 526.0,1066.6 527.0,1067.4 528.0,1066.6 529.0,1065.3 530.0,1071.0 531.0,1073.4 532.0,1067.3 533.0,1067.3 534.0,1072.5 535.0,1074.1 536.0,1078.8 537.0,1077.6 538.0,1078.6 539.0,1072.8 540.0,1078.8 541.0,1080.8 542.0,1080.9 543.0,1087.0 544.0,1086.5 545.0,1084.4 546.0,1091.5 547.0,1096.4 548.0,1103.5 549.0,1094.7 550.0,1094.7 552.0,1100.0 555.0,1098.0 558.0,1085.0 560.5,1060.0 563.2,1000.0 566.0,920.0 569.0,830.0 572.5,750.0 575.2,850.0 578.0,960.0 581.5,1055.0 585.5,1110.0 589.2,1143.0 594.0,1148.0 595.0,1151.8 596.0,1155.7 597.0,1146.2 598.0,1151.7 599.0,1148.1 600.0,1152.4 601.0,1147.2 602.0,1148.4 603.0,1151.5 604.0,1154.3 605.0,1153.1 606.0,1159.0 607.0,1160.1 608.0,1172.2 609.0,1173.5 610.0,1169.8 611.0,1174.8 612.0,1182.3 613.0,1183.8 614.0,1188.4 615.0,1197.2 616.0,1200.4 617.0,1199.9 618.0,1204.8 619.0,1201.9 620.0,1203.0 621.0,1203.8 622.0,1205.3 623.0,1204.0 624.0,1211.4 625.0,1209.5 626.0,1205.9 627.0,1206.5 628.0,1203.1 629.0,1208.1 630.0,1205.2 631.0,1205.8 632.0,1205.8 633.0,1202.2 634.0,1205.9 635.0,1213.5 636.0,1206.0 637.0,1206.2 638.0,1208.9 639.0,1207.1 640.0,1207.4 641.0,1206.7 642.0,1207.2 643.0,1210.3 644.0,1202.3 645.0,1205.1 646.0,1205.2 647.0,1209.6 648.0,1206.3 649.0,1210.6 650.0,1206.2 651.0,1212.5 652.0,1202.8 653.0,1215.9 654.0,1206.1 655.0,1210.1 656.0,1208.6 657.0,1212.1 658.0,1218.8 659.0,1217.4 660.0,1213.7 661.0,1218.0 662.0,1223.1 663.0,1220.3 664.0,1217.9 665.0,1221.1 666.0,1221.2 667.0,1213.8 668.0,1217.8 669.0,1219.9 670.0,1225.8 671.0,1222.0 672.0,1220.4 673.0,1214.1 674.0,1217.9 675.0,1214.3 676.0,1219.7 677.0,1217.3 678.0,1222.0 679.0,1219.1 680.0,1219.3 681.0,1220.2 682.0,1222.3 683.0,1217.9 684.0,1217.2 685.0,1219.5 686.0,1229.5 687.0,1216.9 688.0,1216.3 689.0,1220.5 690.0,1214.3 691.0,1221.6 692.0,1216.0 693.0,1219.0 694.0,1219.4 695.0,1217.5 696.0,1222.3 697.0,1220.9 698.0,1224.5 699.0,1223.2 700.0,1220.0 701.0,1224.1 702.0,1224.0 703.0,1221.7 704.0,1221.3 705.0,1223.6 706.0,1216.9 707.0,1222.7 708.0,1218.5 709.0,1218.9 710.0,1219.9 711.0,1224.6 712.0,1211.8 713.0,1210.7 714.0,1219.5 715.0,1215.0 716.0,1216.9 717.0,1212.3 718.0,1221.5 719.0,1219.2 720.0,1213.3 721.0,1222.5 722.0,1219.4 723.0,1218.3 724.0,1214.5 725.0,1227.2 726.0,1218.4 727.0,1224.2 728.0,1219.9 729.0,1218.9 730.0,1225.8 731.0,1224.8 732.0,1224.9 733.0,1221.4 734.0,1224.9 735.0,1225.4 736.0,1228.1 737.0,1223.3 738.0,1225.0 739.0,1226.6 740.0,1216.3 741.0,1225.3 742.0,1229.8 743.0,1226.9 744.0,1226.2 745.0,1227.7 746.0,1229.5 747.0,1219.5 748.0,1223.3 749.0,1222.7 750.0,1221.1 751.0,1228.4 752.0,1221.2 753.0,1223.9 754.0,1224.8 755.0,1225.9 756.0,1216.2 757.0,1215.2 758.0,1212.9 759.0,1220.1 760.0,1214.8 761.0,1218.6 762.0,1219.7 763.0,1221.8 764.0,1211.2 765.0,1214.4 766.0,1213.2 767.0,1205.3 768.0,1214.1 769.0,1215.5 770.0,1205.5 771.0,1212.6 772.0,1211.9 773.0,1211.9 774.0,1208.1 775.0,1208.6 776.0,1220.6 777.0,1217.1 778.0,1214.0 779.0,1218.0 780.0,1210.9 781.0,1217.0 782.0,1213.6 783.0,1207.0 784.0,1212.8 785.0,1219.2 786.0,1219.9 787.0,1219.7 788.0,1218.0 789.0,1219.4 790.0,1213.4 791.0,1218.1 792.0,1228.6 793.0,1218.1 794.0,1215.5 795.0,1224.0 796.0,1216.1 797.0,1215.3 798.0,1215.8 799.0,1216.2 800.0,1210.4 801.0,1214.4 802.0,1212.6 803.0,1207.4 804.0,1214.1 805.0,1212.6 806.0,1210.4 807.0,1210.3 808.0,1215.1 809.0,1201.4 810.0,1213.7 811.0,1210.9 812.0,1210.2 813.0,1208.6 814.0,1208.3 815.0,1212.0 816.0,1205.7 817.0,1214.5 818.0,1203.6 819.0,1209.6 820.0,1206.5 821.0,1212.4 822.0,1209.7 823.0,1202.0 824.0,1209.5 825.0,1205.4 826.0,1210.4 827.0,1209.2 828.0,1206.7 829.0,1206.9 830.0,1210.9 831.0,1210.6 832.0,1210.5 833.0,1207.7 834.0,1213.5 835.0,1210.0 836.0,1206.5 837.0,1207.7 838.0,1220.5 839.0,1213.6 840.0,1211.8 841.0,1212.0 842.0,1213.8 843.0,1214.6 844.0,1214.4 845.0,1217.6 846.0,1213.1 847.0,1216.5 848.0,1215.1 849.0,1213.6 850.0,1217.3 851.0,1216.7 852.0,1212.2 853.0,1217.4 854.0,1213.6 855.0,1210.3 856.0,1222.0 857.0,1220.1 858.0,1208.6 859.0,1215.7 860.0,1215.5 861.0,1213.4 862.0,1211.4 863.0,1215.4 864.0,1215.0 865.0,1212.6 866.0,1216.5 867.0,1208.4 868.0,1204.7 869.0,1216.4 870.0,1218.6 871.0,1207.5 872.0,1209.2 873.0,1220.5 874.0,1212.4 875.0,1216.5 876.0,1216.7 877.0,1212.9 878.0,1208.9 879.0,1217.8 880.0,1213.2 881.0,1208.0 882.0,1208.0 883.0,1212.4 884.0,1206.7 885.0,1220.2 886.0,1214.6 887.0,1215.5 888.0,1211.7 889.0,1214.4 890.0,1204.8 891.0,1209.9 892.0,1214.1 893.0,1208.1 894.0,1209.4 895.0,1208.5 896.0,1215.6 897.0,1215.8 898.0,1211.5 899.0,1213.8 900.0,1211.0 901.0,1206.4 902.0,1208.0 903.0,1209.1 904.0,1212.8 905.0,1210.4 906.0,1214.0 907.0,1207.9 908.0,1212.7 909.0,1210.4 910.0,1214.6 911.0,1211.2 912.0,1214.0 913.0,1204.7 914.0,1214.4 915.0,1213.2 916.0,1216.3 917.0,1215.6 918.0,1211.1 919.0,1223.0 920.0,1223.3 921.0,1218.2 922.0,1221.0 923.0,1216.5 924.0,1222.1 925.0,1212.0 926.0,1218.5 929.0,1203.0 932.0,1186.0 934.7,1164.0 937.5,1147.0 940.2,1159.0 943.0,1186.0 946.0,1208.0 947.0,1212.3 948.0,1208.4 949.0,1215.2 950.0,1221.7 951.0,1215.4 952.0,1217.1 953.0,1219.0 954.0,1218.1 955.0,1219.7 956.0,1219.6 957.0,1220.3 958.0,1217.7 959.0,1219.8 960.0,1216.0 961.0,1224.6 962.0,1218.6 963.0,1221.3 964.0,1219.5 965.0,1223.8 966.0,1219.5 967.0,1228.5 968.0,1224.1 969.0,1223.2 970.0,1228.0 971.0,1227.1 972.0,1224.2 973.0,1220.6 974.0,1225.4 975.0,1226.3 976.0,1221.7 977.0,1225.1 978.0,1221.5 979.0,1224.6 980.0,1220.4 981.0,1216.7 982.0,1212.3 983.0,1215.8 984.0,1211.7 985.0,1224.6 986.0,1221.4 987.0,1221.4 988.0,1217.4 989.0,1218.4 990.0,1210.3 991.0,1214.5 992.0,1210.3 993.0,1217.0 994.0,1214.1 995.0,1219.3 996.0,1210.5 997.0,1215.1 998.0,1217.1 999.0,1211.6 1000.0,1214.0 1001.0,1217.2 1002.0,1207.6 1003.0,1212.8 1004.0,1211.7 1005.0,1211.5 1006.0,1204.5 1007.0,1210.6 1008.0,1204.3 1009.0,1217.1 1010.0,1210.4 1011.0,1211.5 1012.0,1208.5 1013.0,1211.7 1014.0,1208.2 1015.0,1210.7 1016.0,1213.3 1017.0,1209.2 1018.0,1209.7 1019.0,1209.7 1020.0,1209.6 1021.0,1206.7 1022.0,1206.5 1023.0,1204.6 1024.0,1198.0 1025.0,1201.0 1026.0,1207.6 1027.0,1202.8 1028.0,1200.8 1029.0,1196.6 1030.0,1198.0 1031.0,1203.9 1032.0,1207.3 1033.0,1202.6 1034.0,1197.6 1035.0,1195.7 1036.0,1200.9 1037.0,1209.4 1038.0,1205.7 1039.0,1200.7 1040.0,1203.6 1041.0,1204.1 1042.0,1209.1 1043.0,1210.4 1044.0,1209.4 1045.0,1199.9 1046.0,1209.0 1047.0,1209.8 1048.0,1201.2 1049.0,1204.0 1050.0,1202.6 1051.0,1194.4 1052.0,1193.0 1053.0,1196.7 1054.0,1196.7 1055.0,1200.4 1056.0,1195.4 1057.0,1195.8 1058.0,1197.0 1059.0,1203.5 1060.0,1197.6 1061.0,1202.8 1062.0,1202.1 1063.0,1197.3 1064.0,1200.2 1065.0,1196.3 1066.0,1198.2 1067.0,1199.6 1068.0,1195.7 1069.0,1195.2 1070.0,1194.6 1071.0,1192.2 1072.0,1197.6 1073.0,1187.0 1074.0,1191.2 1075.0,1186.1 1076.0,1187.3 1077.0,1188.3 1078.0,1195.5 1079.0,1186.4 1080.0,1185.3 1081.0,1185.9 1082.0,1181.8 1083.0,1178.1 1084.0,1183.7 1085.0,1181.7 1086.0,1177.5 1087.0,1176.4 1088.0,1180.4 1089.0,1173.6 1090.0,1170.5 1091.0,1169.9 1092.0,1161.2 1093.0,1173.2 1094.0,1170.1 1095.0,1169.0 1096.0,1160.0 1097.0,1167.7 1098.0,1162.5 1099.0,1162.0 1100.0,1165.8 1101.0,1162.2 1102.0,1152.6 1103.0,1155.4 1104.0,1155.8 1105.0,1154.5 1106.0,1151.9 1107.0,1153.8 1108.0,1152.7 1109.0,1150.0 1110.0,1153.7 1111.0,1146.4 1112.0,1149.4 1113.0,1146.1 1114.0,1151.0 1115.0,1154.3 1116.0,1157.9 1117.0,1149.7 1118.0,1147.7 1119.0,1149.7 1120.0,1152.4 1121.0,1157.2 1122.0,1150.7 1127.0,1180.0 1131.0,1200.0 1135.0,1206.0 1138.3,1190.0 1141.0,1130.0 1143.7,1050.0 1146.4,960.0 1149.0,905.0 1152.0,1050.0 1155.0,1190.0 1158.0,1246.0 1160.7,1200.0 1163.4,1080.0 1166.1,930.0 1169.0,775.0 1171.7,950.0 1174.4,1120.0 1177.0,1250.0 1180.0,1330.0 1184.0,1380.0 1187.0,1415.0 1190.0,1431.0 1192.5,1400.0 1195.0,1363.0 1198.0,1390.0 1201.0,1425.0 1205.0,1448.0 1208.0,1455.0 1209.0,1457.5 1210.0,1462.4 1211.0,1463.7 1212.0,1464.9 1213.0,1468.4 1214.0,1471.2 1215.0,1473.7 1216.0,1476.8 1217.0,1477.2 1218.0,1476.6 1219.0,1478.0 1220.0,1478.2 1221.0,1480.6 1222.0,1483.4 1223.0,1481.4 1224.0,1488.5 1225.0,1489.4 1226.0,1490.6 1227.0,1489.7 1228.0,1486.0 1229.0,1477.9 1230.0,1479.6 1231.0,1477.7 1232.0,1485.6 1233.0,1486.9 1234.0,1485.5 1235.0,1485.5 1236.0,1486.6 1237.0,1485.4 1238.0,1486.2 1239.0,1484.7 1240.0,1487.2 1241.0,1485.8 1242.0,1485.3 1243.0,1484.7 1244.0,1485.5 1245.0,1486.7 1246.0,1486.6 1247.0,1490.0 1248.0,1488.8 1249.0,1489.5 1250.0,1488.4 1251.0,1490.7 1252.0,1488.8 1253.0,1488.9 1254.0,1492.9 1255.0,1490.6 1256.0,1488.7 1257.0,1489.9 1258.0,1489.9 1259.0,1490.8 1260.0,1489.4 1261.0,1489.7 1262.0,1490.3 1263.0,1492.9 1264.0,1494.5 1265.0,1494.7 1266.0,1494.5 1267.0,1495.4 1268.0,1496.2 1269.0,1497.5 1270.0,1498.2 1271.0,1498.2 1272.0,1500.8 1273.0,1501.6 1274.0,1503.0 1275.0,1499.7 1276.0,1499.3 1277.0,1499.5 1278.0,1496.9 1279.0,1497.7 1280.0,1495.7 1281.0,1494.5 1282.0,1493.3 1283.0,1494.3 1284.0,1493.7 1285.0,1491.0 1286.0,1489.8 1289.0,1480.0 1292.0,1455.0 1294.8,1415.0 1297.5,1370.0 1300.2,1420.0 1303.0,1465.0 1306.0,1495.0 1309.0,1510.0 1310.0,1511.3 1311.0,1512.0 1312.0,1515.2 1313.0,1514.7 1314.0,1509.0 1315.0,1506.6 1316.0,1505.2 1317.0,1513.1 1318.0,1511.8 1319.0,1513.7 1320.0,1510.4 1321.0,1510.4 1322.0,1509.1 1323.0,1508.7 1324.0,1507.0 1325.0,1505.9 1326.0,1504.5 1327.0,1504.1 1328.0,1505.2 1329.0,1506.0 1330.0,1506.5 1331.0,1509.1 1332.0,1511.0 1333.0,1511.6 1334.0,1512.6 1335.0,1513.4 1336.0,1511.2 1337.0,1511.0 1338.0,1513.6 1339.0,1515.8 1340.0,1515.0 1341.0,1516.2 1342.0,1515.7 1343.0,1517.8 1344.0,1514.2 1345.0,1515.8 1346.0,1514.6 1347.0,1514.9 1348.0,1513.4 1349.0,1514.6 1350.0,1514.1 1351.0,1513.5 1352.0,1513.1 1353.0,1515.3 1354.0,1513.9 1355.0,1513.4 1356.0,1513.1 1357.0,1511.3 1358.0,1513.0 1359.0,1514.2 1360.0,1514.8 1361.0,1509.2 1362.0,1509.1 1363.0,1511.2 1364.0,1510.9 1365.0,1520.4 1366.0,1521.4 1367.0,1520.9 1368.0,1517.5 1369.0,1516.8 1370.0,1518.4 1371.0,1515.9 1372.0,1517.0 1373.0,1516.6 1374.0,1522.8 1375.0,1524.6 1376.0,1526.0 1377.0,1524.2 1378.0,1524.8 1379.0,1525.0 1380.0,1524.4 1381.0,1526.2 1382.0,1525.4 1383.0,1527.7 1384.0,1524.8 1385.0,1525.5 1386.0,1522.0 1387.0,1522.6 1388.0,1522.8 1389.0,1523.6 1390.0,1522.2 1391.0,1521.9 1392.0,1523.0 1393.0,1522.5 1394.0,1522.7 1395.0,1523.0 1396.0,1525.2 1397.0,1524.1 1398.0,1525.0 1399.0,1520.6 1400.0,1519.6 1401.0,1520.8 1402.0,1526.5 1403.0,1528.1 1404.0,1525.6 1405.0,1527.5 1406.0,1526.6 1407.0,1527.5 1408.0,1527.2 1409.0,1529.2 1410.0,1527.4 1411.0,1530.0 1412.0,1528.4 1413.0,1529.3 1414.0,1528.7 1415.0,1522.5 1416.0,1522.1 1417.0,1520.9 1418.0,1529.5 1419.0,1526.7 1420.0,1528.9 1421.0,1528.1 1422.0,1528.2 1423.0,1527.4 1424.0,1526.5 1425.0,1528.0 1426.0,1527.6 1427.0,1528.5 1428.0,1524.6 1429.0,1526.9 1430.0,1526.3 1431.0,1526.3 1432.0,1529.3 1433.0,1527.8 1434.0,1526.8 1435.0,1528.4 1436.0,1529.0 1437.0,1526.4 1438.0,1527.6 1439.0,1526.7 1440.0,1529.4 1441.0,1528.8 1442.0,1529.1 1443.0,1526.8 1444.0,1528.3 1445.0,1528.4 1446.0,1527.8 1447.0,1527.7 1448.0,1528.0 1449.0,1528.8 1450.0,1529.1 1451.0,1527.8 1452.0,1527.8 1453.0,1527.7 1454.0,1531.1 1455.0,1529.7 1456.0,1528.7 1457.0,1531.8 1458.0,1530.3 1459.0,1528.9 1460.0,1530.2 1461.0,1529.9 1462.0,1529.1 1463.0,1530.3 1464.0,1529.6 1465.0,1529.6 1466.0,1534.8 1467.0,1534.0 1468.0,1534.6 1469.0,1530.5 1470.0,1530.5 1471.0,1532.0 1472.0,1529.8 1473.0,1530.0 1474.0,1529.6 1475.0,1531.2 1476.0,1529.6 1477.0,1532.0 1478.0,1530.2 1479.0,1531.6 1480.0,1531.5 1481.0,1530.5 1482.0,1531.1 1483.0,1530.0 1484.0,1529.2 1485.0,1529.5 1486.0,1530.6 1487.0,1531.4 1488.0,1528.9 1489.0,1527.8 1490.0,1527.9 1491.0,1527.7 1492.0,1528.6 1493.0,1525.8 1494.0,1526.8 1495.0,1526.9 1496.0,1528.0 1497.0,1526.9 1498.0,1528.1 1499.0,1526.3 1500.0,1526.8 1501.0,1526.2 1502.0,1524.0 1503.0,1535.1 1504.0,1535.1 1505.0,1534.1 1506.0,1527.0 1507.0,1527.7 1508.0,1527.3 1509.0,1528.1 1510.0,1526.7 1511.0,1526.6 1512.0,1527.8 1513.0,1528.0 1514.0,1527.4 1515.0,1527.5 1516.0,1527.0 1517.0,1528.3 1518.0,1529.3 1519.0,1527.8 1520.0,1528.3 1521.0,1528.0 1522.0,1527.0 1523.0,1527.1 1524.0,1528.8 1525.0,1528.1 1526.0,1530.7 1527.0,1529.3 1528.0,1529.9 1529.0,1530.2 1530.0,1529.1 1531.0,1529.2 1532.0,1531.1 1533.0,1530.8 1534.0,1530.5 1535.0,1528.6 1536.0,1529.8 1537.0,1530.0 1538.0,1531.5 1539.0,1530.9 1540.0,1531.9 1541.0,1531.1 1542.0,1531.0 1543.0,1529.7 1544.0,1530.1 1545.0,1530.6 1546.0,1529.0 1547.0,1529.2 1548.0,1526.4 1549.0,1528.3 1550.0,1530.7 1551.0,1528.3 1552.0,1529.5 1553.0,1528.3 1554.0,1527.1 1555.0,1528.4 1556.0,1527.9 1557.0,1529.0 1558.0,1527.6 1559.0,1528.9 1560.0,1527.1 1561.0,1529.3 1562.0,1528.3 1563.0,1528.4 1564.0,1528.6 1565.0,1530.3 1566.0,1532.3 1567.0,1529.5 1568.0,1530.5 1569.0,1530.8 1570.0,1531.6 1571.0,1532.7 1572.0,1533.3 1573.0,1533.3 1574.0,1533.1 1575.0,1533.8 1576.0,1534.3 1577.0,1533.0 1578.0,1533.3 1579.0,1532.1 1580.0,1533.7 1581.0,1533.6 1582.0,1533.3 1583.0,1533.2 1584.0,1533.4 1585.0,1530.5 1586.0,1531.6 1587.0,1532.0 1588.0,1531.5 1589.0,1533.0 1590.0,1530.7 1591.0,1531.0 1592.0,1529.9 1593.0,1530.7 1594.0,1529.9 1595.0,1527.7 1596.0,1528.2 1597.0,1528.7 1598.0,1527.4 1599.0,1524.9 1600.0,1527.5 1601.0,1528.0 1602.0,1528.5 1603.0,1526.7 1604.0,1528.5 1605.0,1530.4 1606.0,1529.8 1607.0,1530.9 1608.0,1530.0 1609.0,1531.0 1610.0,1529.3 1611.0,1530.0 1612.0,1531.1 1613.0,1531.7 1614.0,1526.2 1615.0,1524.9 1616.0,1528.2 1617.0,1532.9 1618.0,1534.0 1619.0,1535.2 1620.0,1534.2 1621.0,1532.5 1622.0,1535.2 1623.0,1534.2 1624.0,1532.4 1625.0,1532.7 1626.0,1532.7 1627.0,1532.8 1628.0,1532.2 1629.0,1532.3 1630.0,1533.2 1631.0,1532.9 1632.0,1532.2 1633.0,1533.4 1634.0,1532.2 1635.0,1533.1 1636.0,1526.2 1637.0,1524.7 1638.0,1530.7 1639.0,1532.2 1640.0,1531.6 1641.0,1532.1 1642.0,1531.7 1643.0,1532.6 1644.0,1531.8 1645.0,1530.5 1646.0,1531.4 1647.0,1529.7 1648.0,1531.1 1649.0,1524.9 1650.0,1526.9 1651.0,1525.0 1652.0,1525.7 1653.0,1531.9 1654.0,1530.6 1655.0,1531.7 1656.0,1532.0 1657.0,1531.4 1658.0,1532.8 1659.0,1531.4 1660.0,1529.4 1661.0,1530.0 1662.0,1531.5 1663.0,1531.7 1664.0,1531.0 1665.0,1531.7 1666.0,1532.8 1667.0,1529.2 1668.0,1530.5 1669.0,1531.7 1670.0,1530.6 1671.0,1532.9 1672.0,1532.5 1673.0,1533.2 1674.0,1533.1 1675.0,1532.6 1676.0,1536.0 1677.0,1532.2 1678.0,1534.6 1679.0,1534.2 1680.0,1540.5 1681.0,1538.3 1682.0,1538.0 1683.0,1536.5 1684.0,1535.3 1685.0,1532.5 1686.0,1531.2 1687.0,1532.1 1688.0,1532.1 1689.0,1529.2 1690.0,1529.5 1691.0,1528.5 1692.0,1528.8 1693.0,1529.9 1694.0,1528.6 1695.0,1530.3 1696.0,1531.7 1697.0,1530.0 1698.0,1528.3 1699.0,1530.5 1700.0,1531.2 1701.0,1529.1 1702.0,1530.0 1703.0,1529.2 1704.0,1530.9 1705.0,1532.9 1706.0,1531.5 1707.0,1530.2 1708.0,1530.1 1709.0,1532.7 1710.0,1531.9 1711.0,1532.3 1712.0,1532.7 1713.0,1533.1 1714.0,1532.2 1715.0,1531.4 1716.0,1531.2 1717.0,1532.2 1718.0,1532.6 1719.0,1526.3 1720.0,1525.0 1721.0,1525.2 1722.0,1532.4 1723.0,1531.8 1724.0,1532.8 1725.0,1535.7 1726.0,1535.1 1727.0,1533.5 1728.0,1533.5 1729.0,1534.6 1730.0,1537.1 1731.0,1537.1 1732.0,1532.1 1733.0,1530.4 1734.0,1532.3 1735.0,1531.7 1736.0,1530.9 1737.0,1530.4 1738.0,1527.4 1739.0,1527.9 1740.0,1530.9 1741.0,1528.2 1742.0,1528.2 1743.0,1526.8 1744.0,1528.2 1745.0,1527.7 1746.0,1528.5 1747.0,1528.3 1748.0,1527.6 1749.0,1527.2 1750.0,1527.2 1751.0,1527.9 1752.0,1527.1 1753.0,1529.8 1754.0,1528.6 1755.0,1526.6 1756.0,1528.8 1757.0,1530.5 1758.0,1530.2 1759.0,1528.9 1760.0,1529.5 1761.0,1528.5 1762.0,1531.0 1763.0,1528.6 1764.0,1531.3 1765.0,1530.5 1766.0,1531.6 1767.0,1530.9 1768.0,1531.1 1769.0,1531.7 1770.0,1532.0 1771.0,1530.4 1772.0,1532.4 1773.0,1527.6 1774.0,1524.6 1775.0,1527.4 1776.0,1532.8 1777.0,1530.6 1778.0,1532.6 1779.0,1533.4 1780.0,1534.1 1781.0,1533.6 1782.0,1532.7 1783.0,1534.4 1784.0,1531.6 1785.0,1531.3 1786.0,1531.2 1787.0,1531.7 1788.0,1531.2 1789.0,1531.1 1790.0,1529.9 1791.0,1531.0 1792.0,1530.6 1793.0,1533.7 1794.0,1533.8 1795.0,1533.5 1796.0,1532.0 1797.0,1526.7 1798.0,1526.6 1799.0,1526.5 1800.0,1524.6 1801.0,1525.6 1802.0,1526.6 1803.0,1526.1 1804.0,1526.1 1805.0,1532.3 1806.0,1533.0 1807.0,1532.3 1808.0,1532.7 1809.0,1522.6 1810.0,1521.5 1811.0,1520.7 1812.0,1525.9 1813.0,1524.2 1814.0,1524.2 1815.0,1524.2 1816.0,1524.6 1817.0,1515.5 1818.0,1515.8 1819.0,1517.3 1820.0,1524.4 1821.0,1524.4 1822.0,1525.1 1823.0,1522.4 1824.0,1522.1 1825.0,1523.7 1826.0,1522.9 1827.0,1524.4 1828.0,1524.0 1829.0,1523.2 1830.0,1525.4 1831.0,1525.2 1832.0,1526.9 1833.0,1525.6 1834.0,1526.9 1835.0,1527.1 1836.0,1527.1 1837.0,1528.0 1838.0,1525.1 1839.0,1525.0 1840.0,1527.8 1841.0,1524.8 1842.0,1523.6 1843.0,1525.5 1844.0,1525.4 1845.0,1523.1 1846.0,1522.8 1847.0,1523.0 1848.0,1523.0 1849.0,1521.9 1850.0,1523.2 1851.0,1521.4 1852.0,1521.7 1853.0,1523.6 1854.0,1522.7 1855.0,1525.5 1856.0,1525.5 1857.0,1527.2 1858.0,1528.0 1859.0,1530.6 1860.0,1530.4 1861.0,1528.8 1862.0,1529.4 1863.0,1529.1 1864.0,1529.2 1865.0,1528.0 1866.0,1527.9 1867.0,1526.7 1868.0,1523.7 1869.0,1524.1 1870.0,1523.7 1871.0,1526.8 1872.0,1526.3 1873.0,1527.6 1874.0,1525.1 1875.0,1525.2 1876.0,1523.9 1877.0,1527.6 1878.0,1526.7 1879.0,1523.2 1880.0,1525.6 1881.0,1524.6 1882.0,1522.8 1883.0,1524.4 1884.0,1525.9 1885.0,1524.3 1886.0,1525.9 1887.0,1524.0 1888.0,1522.9 1889.0,1525.2 1890.0,1523.5 1891.0,1525.4 1892.0,1523.9 1893.0,1523.9 1894.0,1523.6 1895.0,1525.5 1896.0,1522.2 1897.0,1523.2 1898.0,1525.1 1899.0,1524.5 1900.0,1524.0 1901.0,1526.2 1902.0,1524.5 1903.0,1522.8 1904.0,1524.1 1905.0,1518.4 1906.0,1518.4 1907.0,1524.5 1908.0,1522.9 1909.0,1523.6 1910.0,1525.1 1911.0,1524.6 1912.0,1524.8 1913.0,1524.3 1914.0,1524.6 1915.0,1523.2 1916.0,1522.4 1917.0,1522.6 1918.0,1523.9 1919.0,1524.1 1920.0,1522.7 1921.0,1525.0 1922.0,1522.0 1923.0,1525.3 1924.0,1521.8 1925.0,1523.1 1926.0,1522.6 1927.0,1524.8 1928.0,1523.0 1929.0,1522.8 1930.0,1517.3 1931.0,1519.0 1932.0,1517.9 1933.0,1524.7 1934.0,1524.6 1935.0,1523.5 1936.0,1525.4 1937.0,1523.0 1938.0,1524.5 1939.0,1523.9 1940.0,1523.3 1941.0,1523.2 1942.0,1523.4 1943.0,1522.5 1944.0,1521.8 1945.0,1522.4 1946.0,1522.2 1947.0,1521.6 1948.0,1520.9 1949.0,1521.2 1950.0,1520.3 1951.0,1521.9 1952.0,1520.9 1953.0,1520.2 1954.0,1521.1 1955.0,1519.8 1956.0,1519.9 1957.0,1520.4 1958.0,1522.5 1959.0,1521.0 1960.0,1523.4 1961.0,1521.8 1962.0,1521.5 1963.0,1524.0 1964.0,1523.7 1965.0,1523.6 1966.0,1522.3 1967.0,1526.5 1968.0,1525.9 1969.0,1522.6 1970.0,1521.4 1971.0,1521.6 1972.0,1523.2 1973.0,1521.3 1974.0,1521.0 1975.0,1520.2 1976.0,1520.0 1977.0,1519.4 1978.0,1518.6 1979.0,1516.2 1980.0,1517.8 1981.0,1516.1 1982.0,1518.3 1983.0,1520.0 1984.0,1518.2 1985.0,1519.1 1986.0,1517.4 1987.0,1519.9 1988.0,1520.3 1989.0,1521.1 1990.0,1521.8 1991.0,1521.6 1992.0,1523.5 1993.0,1525.2 1994.0,1523.2 1995.0,1522.9 1996.0,1523.5 1997.0,1522.2 1998.0,1523.6 1999.0,1530.3 2000.0,1528.3 2001.0,1528.4 2002.0,1521.8 2003.0,1523.2 2004.0,1521.5 2005.0,1521.3 2006.0,1518.4 2007.0,1519.8 2008.0,1518.3 2009.0,1520.7 2010.0,1519.7 2011.0,1517.3 2012.0,1518.4 2013.0,1518.0 2014.0,1515.1 2015.0,1517.4 2016.0,1515.3 2017.0,1515.3 2018.0,1513.3 2019.0,1513.4 2020.0,1512.7 2021.0,1513.3 2022.0,1513.3 2023.0,1509.7 2024.0,1509.0 2025.0,1505.8 2026.0,1504.5 2027.0,1499.9 2028.0,1499.5 2029.0,1495.6 2030.0,1494.2 2031.0,1488.3 2032.0,1490.0 2033.0,1494.2 2034.0,1497.5 2035.0,1499.3 2036.0,1503.5 2037.0,1503.4 2038.0,1505.9 2039.0,1504.2 2040.0,1503.7 2041.0,1501.7 2042.0,1499.5 2043.0,1497.2 2044.0,1494.6 2044.9,1492.9 2045.8,1490.3 2046.6,1488.2 2047.5,1485.8 2048.4,1490.3 2049.2,1492.5 2050.1,1496.9 2051.0,1499.6 2052.0,1505.1 2053.0,1508.7 2054.0,1515.4 2055.0,1522.6 2056.0,1522.2 2057.0,1521.8 2058.0,1524.9 2059.0,1523.3 2060.0,1523.9 2061.0,1523.7 2062.0,1523.3 2063.0,1525.2 2064.0,1525.6 2065.0,1525.1 2066.0,1526.9 2067.0,1518.0 2068.0,1519.2 2069.0,1519.9 2070.0,1526.4 2071.0,1527.3 2072.0,1526.0 2073.0,1527.4 2074.0,1527.2 2075.0,1525.8 2076.0,1527.2 2077.0,1528.3 2078.0,1527.4 2079.0,1528.6 2080.0,1534.4 2081.0,1534.4 2082.0,1535.0 2083.0,1528.8 2084.0,1530.2 2085.0,1529.4 2086.0,1527.5 2087.0,1530.0 2088.0,1527.1 2089.0,1527.1 2090.0,1525.7 2091.0,1527.5 2092.0,1525.2 2093.0,1527.5 2094.0,1526.9 2095.0,1524.7 2096.0,1524.4 2097.0,1522.9 2098.0,1522.5 2099.0,1522.5 2100.0,1523.4 2101.0,1523.2 2102.0,1522.5 2103.0,1519.8 2104.0,1522.5 2105.0,1522.7 2106.0,1521.9 2107.0,1521.0 2108.0,1519.0 2109.0,1520.7 2110.0,1519.9 2111.0,1519.1 2112.0,1520.8 2113.0,1518.6 2114.0,1519.4 2115.0,1526.7 2116.0,1526.1 2117.0,1518.9 2118.0,1519.8 2119.0,1518.0 2120.0,1518.4 2121.0,1511.8 2122.0,1511.1 2123.0,1516.5 2124.0,1517.7 2125.0,1519.8 2126.0,1518.3 2127.0,1517.5 2128.0,1517.2 2129.0,1520.1 2130.0,1517.8 2131.0,1517.8 2132.0,1516.7 2133.0,1517.3 2134.0,1518.4 2135.0,1515.3 2136.0,1516.9 2137.0,1518.5 2138.0,1521.7 2139.0,1521.7 2140.0,1520.8 2141.0,1515.1 2142.0,1511.9 2143.0,1512.4 2144.0,1510.2 2145.0,1511.3 2146.0,1507.6 2147.0,1508.6 2148.0,1507.7 2149.0,1507.2 2150.0,1506.3 2151.0,1508.6 2152.0,1508.7 2153.0,1510.8 2154.0,1510.0 2155.0,1510.3 2156.0,1512.4 2157.0,1513.9 2158.0,1512.5 2159.0,1512.2 2160.0,1514.3 2161.0,1514.1 2162.0,1516.5 2163.0,1513.8 2164.0,1514.2 2165.0,1514.7 2166.0,1517.0 2167.0,1517.7 2168.0,1518.8 2169.0,1519.8 2170.0,1523.4 2171.0,1526.1 2172.0,1525.4 2173.0,1530.8 2174.0,1536.7 2175.0,1538.8 2176.0,1539.5 2177.0,1541.3 2178.0,1543.8 2179.0,1544.2 2180.0,1545.2 2181.0,1545.7 2182.0,1547.0 2183.0,1551.7 2184.0,1549.5 2185.0,1551.4 2186.0,1551.4 2187.0,1552.9 2188.0,1555.1 2189.0,1554.7 2190.0,1554.4 2191.0,1557.1 2192.0,1556.8 2193.0,1558.2 2194.0,1558.7 2195.0,1560.0 2196.0,1560.8 2197.0,1561.8 2198.0,1560.2 2199.0,1563.1 2200.0,1563.0 2201.0,1564.0 2202.0,1563.7 2203.0,1561.3 2204.0,1562.6 2205.0,1562.5 2206.0,1561.9 2207.0,1562.8 2208.0,1562.0 2209.0,1560.9 2210.0,1563.0 2211.0,1559.7 2212.0,1562.4 2213.0,1561.4 2214.0,1559.7 2215.0,1561.1 2216.0,1558.7 2217.0,1552.6 2218.0,1554.3 2219.0,1553.1 2220.0,1559.7 2221.0,1560.2 2222.0,1561.0 2223.0,1559.8 2224.0,1560.1 2225.0,1560.3 2226.0,1561.5 2227.0,1560.6 2228.0,1560.6 2229.0,1559.9 2230.0,1561.3 2231.0,1559.6 2232.0,1559.5 2233.0,1560.8 2234.0,1561.3 2235.0,1565.0 2236.0,1564.4 2237.0,1564.8 2238.0,1565.1 2239.0,1560.3 2240.0,1560.9 2241.0,1560.0 2242.0,1560.7 2243.0,1560.6 2244.0,1562.3 2245.0,1559.6 2246.0,1557.8 2247.0,1558.0 2248.0,1561.4 2249.0,1558.2 2250.0,1557.8 2251.0,1559.2 2252.0,1559.8 2253.0,1557.1 2254.0,1558.5 2255.0,1556.5 2256.0,1557.7 2257.0,1555.7 2258.0,1555.6 2259.0,1557.7 2260.0,1557.8 2261.0,1558.3 2262.0,1555.7 2263.0,1554.7 2264.0,1556.6 2265.0,1555.9 2266.0,1555.5 2267.0,1557.3 2268.0,1556.5 2269.0,1554.5 2270.0,1556.0 2271.0,1554.2 2272.0,1553.6 2273.0,1554.3 2274.0,1553.8 2275.0,1551.0 2276.0,1552.8 2277.0,1551.6 2278.0,1551.9 2279.0,1550.7 2280.0,1550.7 2281.0,1553.2 2282.0,1550.4 2283.0,1549.7 2284.0,1550.3 2285.0,1553.6 2286.0,1555.1 2287.0,1555.9 2288.0,1557.5 2289.0,1560.3 2290.0,1561.2 2291.0,1563.3 2292.0,1563.5 2293.0,1565.8 2294.0,1567.1 2295.0,1564.0 2296.0,1563.9 2297.0,1565.5 2298.0,1563.6 2299.0,1564.9 2300.0,1564.1 2306.0,1560.0 2309.5,1555.0 2312.0,1510.0 2315.0,1455.0 2318.5,1408.0 2321.5,1475.0 2324.5,1530.0 2327.5,1560.0 2331.0,1575.0 2336.0,1582.0 2343.0,1577.0 2349.0,1572.0 2355.0,1578.0 2363.0,1587.0 2368.0,1594.0" fill="none" stroke="#00fa00" stroke-width="12" stroke-linejoin="round" stroke-linecap="butt" />
<polyline points="212.0,896.0 213.0,891.0 214.0,898.2 215.0,896.6 216.0,892.4 217.0,894.2 218.0,894.7 219.0,893.7 220.0,893.3 221.0,895.5 222.0,896.6 223.0,898.5 224.0,890.9 225.0,887.8 226.0,894.2 227.0,889.8 228.0,887.6 229.0,898.9 230.0,895.2 231.0,889.9 232.0,890.1 233.0,893.4 234.0,892.6 235.0,893.8 236.0,891.3 237.0,883.8 238.0,883.8 239.0,896.4 240.0,893.1 241.0,882.6 242.0,893.8 243.0,893.7 244.0,895.7 245.0,892.6 246.0,894.1 247.0,889.0 248.0,885.6 249.0,891.8 250.0,893.5 251.0,891.3 252.0,885.9 253.0,890.6 254.0,889.6 255.0,895.8 256.0,887.3 257.0,888.1 258.0,889.7 259.0,893.1 260.0,897.4 261.0,894.4 262.0,886.1 263.0,887.9 264.0,899.1 265.0,893.1 266.0,891.2 267.0,894.0 268.0,894.9 269.0,899.6 270.0,892.9 271.0,888.8 272.0,887.7 273.0,896.2 274.0,891.9 275.0,892.7 276.0,893.8 277.0,887.0 278.0,898.3 279.0,889.7 280.0,889.7 281.0,889.1 282.0,890.7 283.0,888.3 284.0,888.0 285.0,892.0 286.0,894.8 287.0,891.9 288.0,883.3 289.0,886.5 290.0,894.1 291.0,887.7 292.0,888.0 293.0,886.2 294.0,893.6 295.0,884.7 296.0,884.3 297.0,890.6 298.0,878.9 299.0,883.5 300.0,896.3 301.0,884.9 302.0,886.4 303.0,875.8 304.0,883.6 305.0,879.5 306.0,881.0 307.0,880.9 308.0,885.0 309.0,883.6 310.0,889.5 311.0,875.4 312.0,882.7 313.0,889.0 314.0,887.7 315.0,892.5 316.0,884.5 317.0,891.2 318.0,889.4 319.0,881.8 320.0,879.9 321.0,896.2 322.0,893.0 323.0,889.0 324.0,885.2 325.0,881.0 326.0,887.7 327.0,890.0 328.0,896.9 329.0,888.9 330.0,890.2 331.0,890.6 332.0,896.1 333.0,898.7 334.0,900.4 335.0,892.7 336.0,896.2 337.0,889.0 338.0,890.7 339.0,892.5 340.0,898.0 341.0,885.2 342.0,895.4 343.0,904.1 344.0,900.6 345.0,902.5 346.0,894.2 347.0,898.5 348.0,893.4 349.0,904.8 350.0,896.5 351.0,896.7 352.0,894.5 353.0,900.5 354.0,906.3 355.0,900.0 356.0,898.9 357.0,896.6 358.0,903.1 359.0,897.9 360.0,898.9 361.0,896.3 362.0,896.1 363.0,897.9 364.0,897.0 365.0,887.1 366.0,892.6 367.0,891.2 368.0,893.7 369.0,896.5 370.0,887.6 371.0,887.2 372.0,883.6 373.0,886.6 374.0,894.0 375.0,885.6 376.0,893.6 377.0,887.7 378.0,886.1 379.0,887.0 380.0,883.8 381.0,887.2 382.0,885.2 383.0,876.9 384.0,881.5 385.0,887.0 386.0,883.4 387.0,875.0 388.0,888.9 389.0,890.5 390.0,878.8 391.0,884.1 392.0,887.5 393.0,885.9 394.0,886.5 395.0,877.1 396.0,887.9 397.0,881.9 398.0,881.0 399.0,885.3 400.0,887.4 401.0,886.8 402.0,879.7 403.0,884.4 404.0,876.1 405.0,886.2 406.0,878.9 407.0,878.8 408.0,885.6 409.0,883.2 410.0,878.6 411.0,884.5 412.0,889.0 413.0,874.5 414.0,881.1 415.0,880.4 416.0,880.6 417.0,879.7 418.0,883.2 419.0,881.6 420.0,878.4 421.0,881.7 422.0,875.2 423.0,884.4 424.0,876.2 425.0,873.1 426.0,874.6 427.0,865.8 428.0,863.0 429.0,862.9 430.0,874.6 431.0,873.6 432.0,870.4 433.0,875.1 434.0,878.0 435.0,876.3 436.0,878.8 437.0,877.9 438.0,877.4 439.0,881.4 440.0,891.7 441.0,890.1 442.0,888.1 443.0,889.8 444.0,882.8 445.0,888.5 446.0,885.6 447.0,883.6 448.0,886.6 449.0,883.6 450.0,892.6 451.0,878.6 452.0,881.2 453.0,882.2 454.0,879.3 455.0,885.9 456.0,878.1 457.0,868.2 459.7,870.0 462.4,848.0 465.1,808.0 467.8,750.0 470.5,687.0 473.2,752.0 475.9,805.0 478.6,845.0 481.3,872.0 484.0,888.0 487.0,900.0 488.0,898.0 489.0,891.4 490.0,903.2 491.0,899.3 492.0,901.5 493.0,900.6 494.0,890.8 495.0,892.9 496.0,890.3 497.0,895.1 498.0,890.2 499.0,889.5 500.0,890.7 501.0,896.0 502.0,888.0 503.0,892.8 504.0,894.0 505.0,893.5 506.0,903.9 507.0,894.9 508.0,910.6 509.0,900.0 510.0,903.4 511.0,916.7 512.0,898.2 513.0,900.2 514.0,900.3 515.0,889.4 516.0,896.0 517.0,896.9 518.0,897.7 519.0,892.4 520.0,894.4 521.0,891.8 522.0,883.1 523.0,891.1 524.0,887.7 525.0,888.0 526.0,890.8 527.0,895.4 528.0,899.2 529.0,900.4 530.0,901.1 531.0,911.9 532.0,912.3 533.0,914.3 534.0,917.9 535.0,908.8 536.0,915.2 537.0,912.9 538.0,914.9 539.0,911.2 540.0,919.9 541.0,909.0 542.0,913.6 543.0,917.8 544.0,920.4 545.0,922.0 546.0,916.6 547.0,919.6 548.0,918.4 549.0,927.5 552.0,937.0 554.5,935.0 557.5,900.0 560.5,870.0 563.2,837.0 566.0,770.0 569.0,680.0 572.5,595.0 575.2,690.0 578.0,785.0 581.0,870.0 584.0,925.0 587.0,955.0 591.0,973.0 592.0,981.7 593.0,975.6 594.0,984.8 595.0,985.0 596.0,980.3 597.0,975.2 598.0,977.8 599.0,984.6 600.0,989.4 601.0,995.6 602.0,990.7 603.0,992.3 604.0,997.4 605.0,999.3 606.0,1000.9 607.0,1007.9 608.0,1005.8 609.0,1009.6 610.0,1009.5 611.0,1019.4 612.0,1016.5 613.0,1028.3 614.0,1027.2 615.0,1035.1 616.0,1030.3 617.0,1038.4 618.0,1040.9 619.0,1033.8 620.0,1044.9 621.0,1035.4 622.0,1038.9 623.0,1037.1 624.0,1040.3 625.0,1042.1 626.0,1042.0 627.0,1048.3 628.0,1046.0 629.0,1042.2 630.0,1043.6 631.0,1038.7 632.0,1045.2 633.0,1037.0 634.0,1036.1 635.0,1036.5 636.0,1048.1 637.0,1042.9 638.0,1040.7 639.0,1035.4 640.0,1040.3 641.0,1035.1 642.0,1043.6 643.0,1041.0 644.0,1041.3 645.0,1037.9 646.0,1045.1 647.0,1042.2 648.0,1044.9 649.0,1040.6 650.0,1040.3 651.0,1052.1 652.0,1043.4 653.0,1044.0 654.0,1045.5 655.0,1046.6 656.0,1048.4 657.0,1041.9 658.0,1047.0 659.0,1047.8 660.0,1046.9 661.0,1040.7 662.0,1048.7 663.0,1049.4 664.0,1049.1 665.0,1041.6 666.0,1050.1 667.0,1045.1 668.0,1044.2 669.0,1045.4 670.0,1043.2 671.0,1046.8 672.0,1045.9 673.0,1045.0 674.0,1050.5 675.0,1045.9 676.0,1050.2 677.0,1044.8 678.0,1046.3 679.0,1049.7 680.0,1046.2 681.0,1045.6 682.0,1041.1 683.0,1055.4 684.0,1054.3 685.0,1052.3 686.0,1054.4 687.0,1057.3 688.0,1057.3 689.0,1050.9 690.0,1056.7 691.0,1055.2 692.0,1053.4 693.0,1058.9 694.0,1057.1 695.0,1056.8 696.0,1056.1 697.0,1056.0 698.0,1056.2 699.0,1054.7 700.0,1056.0 701.0,1058.4 702.0,1052.6 703.0,1059.6 704.0,1054.8 705.0,1053.9 706.0,1060.1 707.0,1054.4 708.0,1052.7 709.0,1047.6 710.0,1056.3 711.0,1059.4 712.0,1047.4 713.0,1051.6 714.0,1053.5 715.0,1053.8 716.0,1044.7 717.0,1050.8 718.0,1048.7 719.0,1052.3 720.0,1049.5 721.0,1051.3 722.0,1043.8 723.0,1043.4 724.0,1050.2 725.0,1041.2 726.0,1049.3 727.0,1045.5 728.0,1052.1 729.0,1048.9 730.0,1049.7 731.0,1045.1 732.0,1049.5 733.0,1046.9 734.0,1048.2 735.0,1051.9 736.0,1050.9 737.0,1045.8 738.0,1044.3 739.0,1044.8 740.0,1051.2 741.0,1052.4 742.0,1040.5 743.0,1045.9 744.0,1054.3 745.0,1053.5 746.0,1044.3 747.0,1048.7 748.0,1047.2 749.0,1050.5 750.0,1044.3 751.0,1047.5 752.0,1041.6 753.0,1047.1 754.0,1047.5 755.0,1046.6 756.0,1040.1 757.0,1045.7 758.0,1044.2 759.0,1039.1 760.0,1045.3 761.0,1047.4 762.0,1048.0 763.0,1042.2 764.0,1049.7 765.0,1045.9 766.0,1049.4 767.0,1050.7 768.0,1052.4 769.0,1047.9 770.0,1048.6 771.0,1055.1 772.0,1055.0 773.0,1050.9 774.0,1059.9 775.0,1058.9 776.0,1052.4 777.0,1055.0 778.0,1055.1 779.0,1055.4 780.0,1050.4 781.0,1054.9 782.0,1053.5 783.0,1052.4 784.0,1055.4 785.0,1058.0 786.0,1053.7 787.0,1055.0 788.0,1053.2 789.0,1050.2 790.0,1046.4 791.0,1052.3 792.0,1049.1 793.0,1053.6 794.0,1055.4 795.0,1052.9 796.0,1045.0 797.0,1049.3 798.0,1045.3 799.0,1046.5 800.0,1040.0 801.0,1045.2 802.0,1044.6 803.0,1045.6 804.0,1043.6 805.0,1046.5 806.0,1043.1 807.0,1035.8 808.0,1048.0 809.0,1040.4 810.0,1036.3 811.0,1036.7 812.0,1038.1 813.0,1043.4 814.0,1036.7 815.0,1034.1 816.0,1045.3 817.0,1040.5 818.0,1035.7 819.0,1039.9 820.0,1038.4 821.0,1041.2 822.0,1035.8 823.0,1031.2 824.0,1038.7 825.0,1034.8 826.0,1040.2 827.0,1039.3 828.0,1044.6 829.0,1038.8 830.0,1035.3 831.0,1044.6 832.0,1047.1 833.0,1040.0 834.0,1042.3 835.0,1043.1 836.0,1044.8 837.0,1046.2 838.0,1047.3 839.0,1044.6 840.0,1039.7 841.0,1055.4 842.0,1043.8 843.0,1041.1 844.0,1041.6 845.0,1050.2 846.0,1044.8 847.0,1049.7 848.0,1044.0 849.0,1048.2 850.0,1042.1 851.0,1052.1 852.0,1046.8 853.0,1049.1 854.0,1047.6 855.0,1044.8 856.0,1040.5 857.0,1045.2 858.0,1041.2 859.0,1046.4 860.0,1031.3 861.0,1038.5 862.0,1039.2 863.0,1037.5 864.0,1035.7 865.0,1037.7 866.0,1029.6 867.0,1029.9 868.0,1040.1 869.0,1030.1 870.0,1038.8 871.0,1032.5 872.0,1039.0 873.0,1035.7 874.0,1035.0 875.0,1027.0 876.0,1036.7 877.0,1032.7 878.0,1030.6 879.0,1025.7 880.0,1033.8 881.0,1036.0 882.0,1031.9 883.0,1035.6 884.0,1037.6 885.0,1034.2 886.0,1036.9 887.0,1032.2 888.0,1033.9 889.0,1036.3 890.0,1033.4 891.0,1037.6 892.0,1034.4 893.0,1033.1 894.0,1027.9 895.0,1028.9 896.0,1033.9 897.0,1036.2 898.0,1032.2 899.0,1032.9 900.0,1033.6 901.0,1030.2 902.0,1024.6 903.0,1033.0 904.0,1040.3 905.0,1043.6 906.0,1048.1 907.0,1040.1 908.0,1039.5 909.0,1034.4 910.0,1043.2 911.0,1039.6 912.0,1041.5 913.0,1041.8 914.0,1042.5 915.0,1039.9 916.0,1052.6 917.0,1045.6 918.0,1045.7 919.0,1045.7 920.0,1048.0 921.0,1047.6 922.0,1049.9 923.0,1043.9 924.0,1049.3 925.0,1037.4 928.0,1040.0 931.0,1022.0 933.5,996.0 936.0,979.0 938.5,974.0 941.0,984.0 944.0,1010.0 947.0,1038.0 948.0,1038.0 949.0,1042.3 950.0,1044.8 951.0,1044.0 952.0,1045.6 953.0,1052.3 954.0,1048.8 955.0,1054.0 956.0,1056.1 957.0,1040.5 958.0,1043.5 959.0,1042.1 960.0,1041.2 961.0,1044.6 962.0,1043.0 963.0,1040.2 964.0,1046.7 965.0,1038.5 966.0,1048.7 967.0,1040.9 968.0,1047.9 969.0,1038.9 970.0,1042.3 971.0,1049.0 972.0,1037.0 973.0,1047.0 974.0,1043.7 975.0,1042.5 976.0,1044.2 977.0,1045.7 978.0,1040.4 979.0,1041.2 980.0,1045.9 981.0,1044.2 982.0,1047.7 983.0,1040.5 984.0,1046.7 985.0,1047.1 986.0,1045.6 987.0,1042.5 988.0,1049.3 989.0,1036.2 990.0,1043.2 991.0,1040.7 992.0,1043.3 993.0,1041.5 994.0,1042.0 995.0,1037.0 996.0,1040.5 997.0,1036.0 998.0,1042.5 999.0,1036.6 1000.0,1037.1 1001.0,1037.7 1002.0,1036.1 1003.0,1036.5 1004.0,1035.6 1005.0,1039.8 1006.0,1032.7 1007.0,1038.0 1008.0,1040.0 1009.0,1039.9 1010.0,1040.1 1011.0,1042.9 1012.0,1042.1 1013.0,1042.3 1014.0,1038.5 1015.0,1040.9 1016.0,1037.5 1017.0,1040.4 1018.0,1040.0 1019.0,1043.0 1020.0,1037.6 1021.0,1042.4 1022.0,1040.0 1023.0,1040.0 1024.0,1034.0 1025.0,1035.2 1026.0,1034.4 1027.0,1036.5 1028.0,1038.0 1029.0,1040.2 1030.0,1037.1 1031.0,1040.1 1032.0,1036.7 1033.0,1036.0 1034.0,1035.4 1035.0,1042.1 1036.0,1037.7 1037.0,1038.1 1038.0,1032.9 1039.0,1035.6 1040.0,1037.7 1041.0,1033.6 1042.0,1033.3 1043.0,1035.2 1044.0,1034.7 1045.0,1035.7 1046.0,1030.9 1047.0,1042.0 1048.0,1024.2 1049.0,1035.6 1050.0,1029.7 1051.0,1022.3 1052.0,1030.6 1053.0,1025.4 1054.0,1022.1 1055.0,1025.2 1056.0,1023.2 1057.0,1028.4 1058.0,1021.9 1059.0,1028.3 1060.0,1023.9 1061.0,1023.5 1062.0,1021.5 1063.0,1024.0 1064.0,1025.0 1065.0,1022.5 1066.0,1014.9 1067.0,1022.3 1068.0,1023.6 1069.0,1024.7 1070.0,1023.4 1071.0,1021.8 1072.0,1018.8 1073.0,1014.7 1074.0,1022.5 1075.0,1020.2 1076.0,1019.4 1077.0,1024.8 1078.0,1016.9 1079.0,1018.7 1080.0,1018.2 1081.0,1018.5 1082.0,1013.7 1083.0,1011.8 1084.0,1013.5 1085.0,1012.6 1086.0,1008.3 1087.0,1007.5 1088.0,1001.8 1089.0,1008.6 1090.0,1005.6 1091.0,1000.2 1092.0,992.1 1093.0,998.2 1094.0,990.9 1095.0,989.0 1096.0,984.8 1097.0,987.9 1098.0,982.9 1099.0,984.2 1100.0,981.1 1101.0,975.7 1102.0,982.1 1103.0,973.9 1104.0,973.2 1105.0,977.3 1106.0,974.0 1107.0,973.4 1108.0,970.7 1109.0,974.9 1110.0,971.2 1111.0,971.5 1112.0,972.9 1113.0,981.8 1114.0,975.0 1115.0,976.0 1116.0,974.7 1117.0,976.4 1118.0,977.6 1119.0,974.0 1120.0,974.1 1121.0,983.2 1122.0,981.7 1123.0,977.8 1124.0,984.1 1125.0,990.5 1126.0,987.7 1127.0,988.6 1131.0,1015.0 1135.0,1035.0 1138.3,1030.0 1141.0,950.0 1143.7,780.0 1146.4,520.0 1149.5,330.0 1152.0,640.0 1155.0,960.0 1158.0,1070.0 1160.7,1010.0 1163.4,820.0 1166.1,540.0 1169.0,47.0 1171.7,280.0 1174.4,700.0 1177.0,1100.0 1180.0,1200.0 1184.0,1235.0 1189.0,1257.0 1192.0,1235.0 1196.0,1209.0 1199.0,1240.0 1202.0,1270.0 1205.0,1285.0 1210.0,1300.0 1211.0,1301.1 1212.0,1302.8 1213.0,1302.2 1214.0,1305.3 1215.0,1304.0 1216.0,1305.7 1217.0,1306.1 1218.0,1306.1 1219.0,1306.7 1220.0,1306.4 1221.0,1305.5 1222.0,1306.7 1223.0,1306.4 1224.0,1306.6 1225.0,1306.7 1226.0,1303.8 1227.0,1305.5 1228.0,1305.8 1229.0,1308.5 1230.0,1307.1 1231.0,1303.9 1232.0,1306.0 1233.0,1309.9 1234.0,1310.7 1235.0,1311.7 1236.0,1312.0 1237.0,1311.1 1238.0,1312.7 1239.0,1311.9 1240.0,1313.4 1241.0,1314.8 1242.0,1312.6 1243.0,1312.9 1244.0,1312.9 1245.0,1313.7 1246.0,1311.5 1247.0,1313.0 1248.0,1312.0 1249.0,1310.8 1250.0,1311.7 1251.0,1311.9 1252.0,1310.4 1253.0,1311.6 1254.0,1312.2 1255.0,1313.2 1256.0,1313.6 1257.0,1314.7 1258.0,1315.2 1259.0,1315.9 1260.0,1318.4 1261.0,1318.2 1262.0,1318.6 1263.0,1318.7 1264.0,1318.5 1265.0,1320.2 1266.0,1321.5 1267.0,1322.5 1268.0,1320.1 1269.0,1322.4 1270.0,1322.9 1271.0,1321.9 1272.0,1323.0 1273.0,1324.7 1274.0,1324.5 1275.0,1325.2 1276.0,1326.4 1277.0,1328.0 1278.0,1329.2 1279.0,1330.8 1280.0,1330.7 1281.0,1321.8 1282.0,1321.6 1283.0,1321.9 1284.0,1321.7 1285.0,1325.1 1289.0,1310.0 1292.0,1280.0 1294.8,1235.0 1297.5,1181.0 1300.2,1240.0 1303.0,1290.0 1306.0,1325.0 1309.0,1340.0 1310.0,1341.9 1311.0,1342.7 1312.0,1346.5 1313.0,1346.5 1314.0,1347.8 1315.0,1346.6 1316.0,1349.0 1317.0,1348.0 1318.0,1346.7 1319.0,1344.7 1320.0,1345.3 1321.0,1342.3 1322.0,1338.1 1323.0,1336.2 1324.0,1336.4 1325.0,1338.2 1326.0,1339.5 1327.0,1339.9 1328.0,1341.8 1329.0,1341.3 1330.0,1342.8 1331.0,1341.9 1332.0,1341.3 1333.0,1344.5 1334.0,1344.9 1335.0,1345.4 1336.0,1345.9 1337.0,1342.4 1338.0,1342.8 1339.0,1348.0 1340.0,1346.6 1341.0,1349.9 1342.0,1354.0 1343.0,1353.1 1344.0,1349.2 1345.0,1349.4 1346.0,1350.4 1347.0,1349.7 1348.0,1350.7 1349.0,1349.6 1350.0,1351.6 1351.0,1351.0 1352.0,1353.1 1353.0,1352.9 1354.0,1351.8 1355.0,1350.1 1356.0,1352.3 1357.0,1349.7 1358.0,1350.2 1359.0,1350.9 1360.0,1349.8 1361.0,1351.3 1362.0,1352.4 1363.0,1353.5 1364.0,1354.7 1365.0,1357.0 1366.0,1357.7 1367.0,1359.7 1368.0,1360.3 1369.0,1359.4 1370.0,1358.9 1371.0,1359.7 1372.0,1358.7 1373.0,1359.8 1374.0,1360.4 1375.0,1359.0 1376.0,1358.6 1377.0,1358.8 1378.0,1358.8 1379.0,1360.5 1380.0,1360.3 1381.0,1361.2 1382.0,1360.7 1383.0,1359.5 1384.0,1361.4 1385.0,1363.0 1386.0,1362.2 1387.0,1362.6 1388.0,1362.1 1389.0,1357.8 1390.0,1359.0 1391.0,1359.7 1392.0,1362.5 1393.0,1363.1 1394.0,1365.4 1395.0,1363.7 1396.0,1364.1 1397.0,1363.0 1398.0,1361.9 1399.0,1359.8 1400.0,1359.1 1401.0,1359.1 1402.0,1359.6 1403.0,1357.2 1404.0,1356.2 1405.0,1358.2 1406.0,1357.3 1407.0,1357.0 1408.0,1357.3 1409.0,1356.3 1410.0,1358.1 1411.0,1358.5 1412.0,1359.9 1413.0,1359.8 1414.0,1360.5 1415.0,1361.8 1416.0,1361.2 1417.0,1360.7 1418.0,1361.1 1419.0,1360.6 1420.0,1362.5 1421.0,1365.6 1422.0,1358.7 1423.0,1358.3 1424.0,1363.1 1425.0,1362.0 1426.0,1361.5 1427.0,1362.1 1428.0,1360.2 1429.0,1360.0 1430.0,1358.4 1431.0,1359.3 1432.0,1357.5 1433.0,1357.2 1434.0,1356.1 1435.0,1355.9 1436.0,1356.4 1437.0,1357.9 1438.0,1357.4 1439.0,1357.8 1440.0,1356.7 1441.0,1357.2 1442.0,1360.0 1443.0,1358.3 1444.0,1359.7 1445.0,1359.6 1446.0,1360.1 1447.0,1358.5 1448.0,1360.9 1449.0,1360.9 1450.0,1361.8 1451.0,1359.7 1452.0,1360.8 1453.0,1360.9 1454.0,1361.4 1455.0,1359.8 1456.0,1361.4 1457.0,1360.8 1458.0,1361.4 1459.0,1362.1 1460.0,1361.1 1461.0,1361.4 1462.0,1361.5 1463.0,1362.0 1464.0,1361.2 1465.0,1360.6 1466.0,1361.7 1467.0,1360.8 1468.0,1361.1 1469.0,1360.9 1470.0,1361.6 1471.0,1360.3 1472.0,1361.3 1473.0,1361.1 1474.0,1359.8 1475.0,1360.2 1476.0,1359.6 1477.0,1359.3 1478.0,1361.6 1479.0,1360.4 1480.0,1360.1 1481.0,1361.5 1482.0,1359.6 1483.0,1359.7 1484.0,1359.3 1485.0,1359.0 1486.0,1359.6 1487.0,1359.9 1488.0,1358.8 1489.0,1359.9 1490.0,1359.6 1491.0,1360.5 1492.0,1359.5 1493.0,1359.9 1494.0,1361.7 1495.0,1359.2 1496.0,1361.2 1497.0,1358.8 1498.0,1358.9 1499.0,1360.4 1500.0,1360.4 1501.0,1359.7 1502.0,1360.9 1503.0,1359.9 1504.0,1360.4 1505.0,1360.0 1506.0,1360.5 1507.0,1358.6 1508.0,1360.5 1509.0,1361.3 1510.0,1359.3 1511.0,1360.0 1512.0,1361.0 1513.0,1359.7 1514.0,1360.8 1515.0,1359.4 1516.0,1360.9 1517.0,1360.1 1518.0,1360.9 1519.0,1359.5 1520.0,1360.8 1521.0,1359.4 1522.0,1358.8 1523.0,1360.2 1524.0,1360.6 1525.0,1359.2 1526.0,1360.1 1527.0,1360.2 1528.0,1360.9 1529.0,1359.3 1530.0,1357.9 1531.0,1360.2 1532.0,1360.2 1533.0,1360.7 1534.0,1359.4 1535.0,1360.4 1536.0,1360.7 1537.0,1360.5 1538.0,1361.3 1539.0,1360.0 1540.0,1360.9 1541.0,1360.8 1542.0,1360.3 1543.0,1359.5 1544.0,1360.7 1545.0,1362.4 1546.0,1362.8 1547.0,1359.9 1548.0,1360.6 1549.0,1361.0 1550.0,1360.6 1551.0,1362.2 1552.0,1362.3 1553.0,1362.2 1554.0,1361.6 1555.0,1361.7 1556.0,1362.4 1557.0,1361.6 1558.0,1361.9 1559.0,1361.4 1560.0,1361.1 1561.0,1361.1 1562.0,1362.0 1563.0,1360.5 1564.0,1360.9 1565.0,1360.9 1566.0,1361.5 1567.0,1360.0 1568.0,1361.2 1569.0,1360.5 1570.0,1361.2 1571.0,1360.1 1572.0,1359.4 1573.0,1355.6 1574.0,1356.5 1575.0,1358.2 1576.0,1359.1 1577.0,1358.6 1578.0,1357.2 1579.0,1359.5 1580.0,1358.5 1581.0,1357.9 1582.0,1358.1 1583.0,1358.5 1584.0,1356.5 1585.0,1356.4 1586.0,1358.3 1587.0,1357.9 1588.0,1358.2 1589.0,1358.5 1590.0,1357.1 1591.0,1356.3 1592.0,1357.5 1593.0,1357.7 1594.0,1357.1 1595.0,1357.7 1596.0,1357.6 1597.0,1358.1 1598.0,1358.8 1599.0,1360.7 1600.0,1359.8 1601.0,1360.3 1602.0,1360.4 1603.0,1361.8 1604.0,1361.7 1605.0,1361.4 1606.0,1361.1 1607.0,1361.8 1608.0,1364.3 1609.0,1362.6 1610.0,1363.4 1611.0,1361.7 1612.0,1363.0 1613.0,1364.7 1614.0,1364.9 1615.0,1365.3 1616.0,1364.5 1617.0,1365.7 1618.0,1365.2 1619.0,1365.0 1620.0,1366.0 1621.0,1364.8 1622.0,1365.2 1623.0,1358.7 1624.0,1359.9 1625.0,1358.8 1626.0,1365.5 1627.0,1364.3 1628.0,1365.3 1629.0,1360.3 1630.0,1360.3 1631.0,1363.2 1632.0,1365.4 1633.0,1364.1 1634.0,1365.2 1635.0,1364.8 1636.0,1364.1 1637.0,1365.6 1638.0,1364.3 1639.0,1365.2 1640.0,1363.9 1641.0,1364.5 1642.0,1364.8 1643.0,1363.8 1644.0,1364.2 1645.0,1363.9 1646.0,1364.9 1647.0,1365.2 1648.0,1364.7 1649.0,1363.0 1650.0,1364.1 1651.0,1364.9 1652.0,1363.3 1653.0,1364.5 1654.0,1363.1 1655.0,1363.0 1656.0,1365.3 1657.0,1363.7 1658.0,1362.9 1659.0,1363.7 1660.0,1363.6 1661.0,1365.1 1662.0,1364.1 1663.0,1362.6 1664.0,1362.7 1665.0,1362.6 1666.0,1362.3 1667.0,1365.3 1668.0,1362.8 1669.0,1363.8 1670.0,1363.9 1671.0,1362.8 1672.0,1364.2 1673.0,1364.7 1674.0,1362.5 1675.0,1364.1 1676.0,1364.0 1677.0,1363.5 1678.0,1363.1 1679.0,1364.0 1680.0,1363.5 1681.0,1362.7 1682.0,1363.9 1683.0,1362.4 1684.0,1363.1 1685.0,1364.5 1686.0,1364.3 1687.0,1361.5 1688.0,1362.1 1689.0,1363.0 1690.0,1361.9 1691.0,1358.0 1692.0,1357.7 1693.0,1357.1 1694.0,1361.2 1695.0,1362.8 1696.0,1361.4 1697.0,1360.8 1698.0,1362.3 1699.0,1360.8 1700.0,1360.0 1701.0,1360.7 1702.0,1360.7 1703.0,1361.2 1704.0,1361.4 1705.0,1359.8 1706.0,1355.1 1707.0,1356.4 1708.0,1354.7 1709.0,1360.8 1710.0,1361.2 1711.0,1360.5 1712.0,1359.8 1713.0,1360.5 1714.0,1360.4 1715.0,1359.6 1716.0,1361.1 1717.0,1360.9 1718.0,1360.0 1719.0,1361.0 1720.0,1360.2 1721.0,1360.4 1722.0,1361.5 1723.0,1360.0 1724.0,1360.2 1725.0,1367.0 1726.0,1366.2 1727.0,1366.0 1728.0,1361.9 1729.0,1360.8 1730.0,1361.2 1731.0,1363.5 1732.0,1361.0 1733.0,1361.1 1734.0,1362.6 1735.0,1363.2 1736.0,1362.2 1737.0,1363.7 1738.0,1362.1 1739.0,1360.9 1740.0,1363.1 1741.0,1364.3 1742.0,1360.2 1743.0,1362.8 1744.0,1363.7 1745.0,1362.3 1746.0,1362.7 1747.0,1362.2 1748.0,1363.8 1749.0,1363.3 1750.0,1361.9 1751.0,1363.5 1752.0,1362.7 1753.0,1364.0 1754.0,1363.0 1755.0,1363.4 1756.0,1364.3 1757.0,1363.7 1758.0,1365.5 1759.0,1364.4 1760.0,1365.2 1761.0,1364.1 1762.0,1362.3 1763.0,1362.8 1764.0,1363.6 1765.0,1362.3 1766.0,1361.7 1767.0,1362.8 1768.0,1363.9 1769.0,1361.2 1770.0,1362.3 1771.0,1362.9 1772.0,1362.1 1773.0,1362.1 1774.0,1362.1 1775.0,1362.4 1776.0,1362.2 1777.0,1360.6 1778.0,1361.7 1779.0,1363.0 1780.0,1361.3 1781.0,1361.0 1782.0,1362.0 1783.0,1360.8 1784.0,1361.2 1785.0,1361.1 1786.0,1359.8 1787.0,1361.7 1788.0,1359.3 1789.0,1360.1 1790.0,1360.5 1791.0,1360.1 1792.0,1360.8 1793.0,1359.9 1794.0,1360.1 1795.0,1361.2 1796.0,1360.2 1797.0,1360.6 1798.0,1359.7 1799.0,1359.5 1800.0,1359.0 1801.0,1359.5 1802.0,1359.8 1803.0,1359.1 1804.0,1359.3 1805.0,1358.4 1806.0,1357.8 1807.0,1357.3 1808.0,1359.1 1809.0,1356.9 1810.0,1358.7 1811.0,1358.4 1812.0,1357.7 1813.0,1352.5 1814.0,1353.8 1815.0,1353.0 1816.0,1358.5 1817.0,1357.5 1818.0,1359.2 1819.0,1358.9 1820.0,1359.5 1821.0,1359.7 1822.0,1358.6 1823.0,1359.3 1824.0,1359.1 1825.0,1358.9 1826.0,1359.6 1827.0,1359.4 1828.0,1359.7 1829.0,1359.3 1830.0,1359.8 1831.0,1359.1 1832.0,1360.1 1833.0,1358.8 1834.0,1361.6 1835.0,1362.3 1836.0,1359.8 1837.0,1359.3 1838.0,1359.8 1839.0,1361.0 1840.0,1358.4 1841.0,1357.9 1842.0,1359.0 1843.0,1357.9 1844.0,1357.6 1845.0,1352.9 1846.0,1353.2 1847.0,1350.6 1848.0,1352.5 1849.0,1352.7 1850.0,1348.7 1851.0,1344.0 1852.0,1345.2 1853.0,1350.8 1854.0,1354.2 1855.0,1355.0 1856.0,1357.9 1857.0,1358.4 1858.0,1358.1 1859.0,1358.2 1860.0,1359.7 1861.0,1358.2 1862.0,1359.2 1863.0,1359.4 1864.0,1358.4 1865.0,1359.0 1866.0,1359.8 1867.0,1358.9 1868.0,1358.1 1869.0,1359.2 1870.0,1359.8 1871.0,1358.2 1872.0,1360.9 1873.0,1360.2 1874.0,1358.7 1875.0,1359.4 1876.0,1360.4 1877.0,1359.3 1878.0,1357.3 1879.0,1357.8 1880.0,1356.3 1881.0,1357.5 1882.0,1355.9 1883.0,1357.1 1884.0,1356.0 1885.0,1355.7 1886.0,1354.9 1887.0,1353.7 1888.0,1354.5 1889.0,1354.1 1890.0,1354.3 1891.0,1355.3 1892.0,1355.2 1893.0,1355.8 1894.0,1355.1 1895.0,1356.1 1896.0,1356.1 1897.0,1355.7 1898.0,1355.6 1899.0,1356.6 1900.0,1353.0 1901.0,1352.7 1902.0,1353.2 1903.0,1352.1 1904.0,1357.2 1905.0,1356.8 1906.0,1356.2 1907.0,1356.0 1908.0,1356.5 1909.0,1359.4 1910.0,1359.5 1911.0,1356.0 1912.0,1354.9 1913.0,1354.4 1914.0,1356.3 1915.0,1353.4 1916.0,1355.1 1917.0,1353.2 1918.0,1353.5 1919.0,1353.7 1920.0,1353.6 1921.0,1354.4 1922.0,1352.8 1923.0,1351.8 1924.0,1352.7 1925.0,1353.1 1926.0,1353.2 1927.0,1352.4 1928.0,1352.9 1929.0,1353.4 1930.0,1350.7 1931.0,1350.0 1932.0,1350.0 1933.0,1354.6 1934.0,1354.5 1935.0,1353.2 1936.0,1354.2 1937.0,1354.4 1938.0,1354.0 1939.0,1354.1 1940.0,1354.5 1941.0,1355.0 1942.0,1355.1 1943.0,1354.0 1944.0,1355.8 1945.0,1354.7 1946.0,1354.9 1947.0,1354.8 1948.0,1354.7 1949.0,1355.7 1950.0,1355.5 1951.0,1354.6 1952.0,1354.7 1953.0,1354.9 1954.0,1356.3 1955.0,1354.2 1956.0,1355.1 1957.0,1356.2 1958.0,1354.7 1959.0,1349.2 1960.0,1349.9 1961.0,1349.0 1962.0,1354.4 1963.0,1354.6 1964.0,1355.1 1965.0,1355.1 1966.0,1355.0 1967.0,1354.7 1968.0,1353.4 1969.0,1353.1 1970.0,1353.2 1971.0,1348.3 1972.0,1348.9 1973.0,1348.2 1974.0,1353.4 1975.0,1351.3 1976.0,1351.9 1977.0,1351.8 1978.0,1352.5 1979.0,1351.0 1980.0,1345.1 1981.0,1345.6 1982.0,1351.8 1983.0,1348.2 1984.0,1349.8 1985.0,1347.0 1986.0,1352.8 1987.0,1352.7 1988.0,1351.8 1989.0,1351.5 1990.0,1351.7 1991.0,1351.3 1992.0,1351.3 1993.0,1350.1 1994.0,1350.2 1995.0,1350.0 1996.0,1350.6 1997.0,1349.5 1998.0,1347.9 1999.0,1347.7 2000.0,1347.3 2001.0,1346.2 2002.0,1346.3 2003.0,1344.1 2004.0,1339.3 2005.0,1329.7 2006.0,1323.6 2007.0,1333.2 2008.0,1338.7 2009.0,1346.7 2010.0,1346.2 2011.0,1346.4 2012.0,1345.0 2013.0,1346.1 2014.0,1347.3 2015.0,1347.6 2016.0,1353.2 2017.0,1354.3 2018.0,1352.4 2019.0,1351.1 2020.0,1349.3 2021.0,1350.2 2022.0,1347.4 2023.0,1347.7 2024.0,1343.3 2025.0,1342.7 2026.0,1342.8 2027.0,1341.7 2028.0,1338.9 2029.0,1340.5 2030.0,1337.7 2031.0,1337.4 2032.0,1337.0 2033.0,1336.2 2034.0,1335.1 2035.0,1332.8 2036.0,1335.6 2037.0,1334.2 2038.0,1334.8 2039.0,1335.0 2040.0,1335.5 2041.0,1335.7 2042.0,1334.6 2042.9,1334.4 2043.8,1331.8 2044.8,1331.3 2045.7,1330.7 2046.6,1327.4 2047.5,1327.2 2048.6,1328.9 2049.8,1331.0 2050.9,1334.9 2052.0,1337.1 2053.0,1338.7 2054.0,1342.2 2055.0,1345.7 2056.0,1348.4 2057.0,1348.3 2058.0,1349.3 2059.0,1350.4 2060.0,1352.7 2061.0,1353.0 2062.0,1353.1 2063.0,1353.0 2064.0,1354.5 2065.0,1354.3 2066.0,1354.8 2067.0,1357.7 2068.0,1356.8 2069.0,1355.9 2070.0,1355.8 2071.0,1356.5 2072.0,1356.0 2073.0,1356.7 2074.0,1355.0 2075.0,1355.8 2076.0,1355.5 2077.0,1355.9 2078.0,1356.4 2079.0,1356.9 2080.0,1355.9 2081.0,1354.1 2082.0,1357.0 2083.0,1354.2 2084.0,1356.1 2085.0,1354.9 2086.0,1355.1 2087.0,1355.7 2088.0,1353.4 2089.0,1356.3 2090.0,1356.2 2091.0,1356.7 2092.0,1354.0 2093.0,1356.1 2094.0,1356.4 2095.0,1356.3 2096.0,1355.0 2097.0,1355.8 2098.0,1356.8 2099.0,1355.9 2100.0,1355.1 2101.0,1354.1 2102.0,1352.6 2103.0,1353.7 2104.0,1352.9 2105.0,1352.6 2106.0,1352.6 2107.0,1352.5 2108.0,1351.2 2109.0,1350.6 2110.0,1350.4 2111.0,1351.7 2112.0,1357.3 2113.0,1356.8 2114.0,1357.6 2115.0,1352.1 2116.0,1352.9 2117.0,1353.6 2118.0,1354.8 2119.0,1354.0 2120.0,1355.5 2121.0,1355.6 2122.0,1356.3 2123.0,1356.2 2124.0,1353.2 2125.0,1352.9 2126.0,1352.4 2127.0,1352.1 2128.0,1351.6 2129.0,1350.2 2130.0,1349.1 2131.0,1349.5 2132.0,1347.7 2133.0,1348.2 2134.0,1342.1 2135.0,1341.1 2136.0,1341.4 2137.0,1344.3 2138.0,1344.1 2139.0,1343.9 2140.0,1343.2 2141.0,1343.8 2142.0,1343.2 2143.0,1342.9 2144.0,1342.8 2145.0,1342.1 2146.0,1343.6 2147.0,1341.8 2148.0,1341.5 2149.0,1342.6 2150.0,1342.2 2151.0,1341.0 2152.0,1342.7 2153.0,1340.9 2154.0,1343.3 2155.0,1341.7 2156.0,1341.8 2157.0,1342.6 2158.0,1341.2 2159.0,1342.6 2160.0,1342.6 2161.0,1341.1 2162.0,1338.5 2163.0,1339.7 2164.0,1338.5 2165.0,1337.2 2166.0,1334.8 2167.0,1338.4 2168.0,1342.6 2169.0,1347.1 2170.0,1350.0 2171.0,1356.1 2172.0,1362.5 2173.0,1364.9 2174.0,1365.4 2175.0,1370.4 2176.0,1372.0 2177.0,1373.8 2178.0,1374.3 2179.0,1374.3 2180.0,1377.7 2181.0,1371.9 2182.0,1372.7 2183.0,1373.3 2184.0,1379.3 2185.0,1380.0 2186.0,1381.3 2187.0,1381.1 2188.0,1381.3 2189.0,1381.6 2190.0,1382.2 2191.0,1383.9 2192.0,1378.7 2193.0,1380.0 2194.0,1380.8 2195.0,1385.5 2196.0,1388.4 2197.0,1384.8 2198.0,1385.8 2199.0,1386.6 2200.0,1387.6 2201.0,1387.7 2202.0,1389.0 2203.0,1388.8 2204.0,1387.8 2205.0,1388.7 2206.0,1389.6 2207.0,1389.2 2208.0,1391.2 2209.0,1390.1 2210.0,1392.0 2211.0,1390.6 2212.0,1390.3 2213.0,1389.8 2214.0,1386.3 2215.0,1385.5 2216.0,1385.1 2217.0,1395.9 2218.0,1395.3 2219.0,1388.0 2220.0,1389.2 2221.0,1384.2 2222.0,1384.9 2223.0,1385.2 2224.0,1388.8 2225.0,1389.6 2226.0,1389.6 2227.0,1389.1 2228.0,1389.3 2229.0,1389.0 2230.0,1389.3 2231.0,1389.3 2232.0,1388.2 2233.0,1388.6 2234.0,1387.6 2235.0,1387.8 2236.0,1389.0 2237.0,1389.3 2238.0,1387.7 2239.0,1388.8 2240.0,1388.8 2241.0,1388.9 2242.0,1388.0 2243.0,1386.3 2244.0,1381.8 2245.0,1382.5 2246.0,1382.0 2247.0,1387.5 2248.0,1387.7 2249.0,1387.5 2250.0,1386.4 2251.0,1388.7 2252.0,1385.7 2253.0,1386.2 2254.0,1386.4 2255.0,1385.8 2256.0,1386.5 2257.0,1385.0 2258.0,1385.0 2259.0,1387.5 2260.0,1384.5 2261.0,1385.6 2262.0,1385.6 2263.0,1384.1 2264.0,1382.9 2265.0,1384.8 2266.0,1382.6 2267.0,1382.4 2268.0,1381.6 2269.0,1380.9 2270.0,1380.7 2271.0,1380.9 2272.0,1380.0 2273.0,1381.9 2274.0,1381.8 2275.0,1381.9 2276.0,1383.5 2277.0,1382.4 2278.0,1383.7 2279.0,1383.5 2280.0,1384.6 2281.0,1386.9 2282.0,1384.4 2283.0,1385.8 2284.0,1388.1 2285.0,1387.5 2286.0,1389.6 2287.0,1389.7 2288.0,1390.7 2289.0,1392.1 2290.0,1393.0 2291.0,1393.2 2292.0,1395.2 2293.0,1396.3 2294.0,1395.2 2295.0,1396.0 2296.0,1394.3 2297.0,1389.4 2298.0,1390.2 2299.0,1390.1 2300.0,1394.5 2301.0,1395.3 2302.0,1394.5 2303.0,1394.7 2306.0,1392.0 2309.0,1387.0 2311.0,1340.0 2314.0,1285.0 2317.8,1230.0 2321.3,1300.0 2324.4,1350.0 2326.5,1385.0 2330.0,1402.0 2336.0,1411.0 2343.0,1402.0 2349.0,1395.0 2355.0,1405.0 2363.0,1418.0 2368.0,1425.0" fill="none" stroke="#0433ff" stroke-width="12" stroke-linejoin="round" stroke-linecap="butt" />
</g>
<g stroke="#000" fill="none">
<path d="M211.5,1928.0 V35.7 H2366.5 V1928.0" stroke-width="5.2" stroke-linejoin="miter"/>
<path d="M208.5,1922.5 H2369.5" stroke-width="5.2"/>
<path d="M2232.4,1922.5 V1905 M2097.6,1922.5 V1889 M1962.8,1922.5 V1905 M1827.9,1922.5 V1889 M1693.1,1922.5 V1905 M1558.3,1922.5 V1889 M1423.5,1922.5 V1905 M1288.7,1922.5 V1889 M1153.9,1922.5 V1905 M1019.0,1922.5 V1889 M884.2,1922.5 V1905 M749.4,1922.5 V1889 M614.6,1922.5 V1905 M479.8,1922.5 V1889 M345.0,1922.5 V1905" stroke-width="4.8"/>
</g>
<text transform="translate(2347.7,2015.2) scale(0.94,1)" font-size="74.2">0</text>
<text transform="translate(2036.9,2015.2) scale(0.94,1)" font-size="74.2" letter-spacing="1.33">100</text>
<text transform="translate(1768.1,2015.2) scale(0.94,1)" font-size="74.2" letter-spacing="1.36">200</text>
<text transform="translate(1498.9,2015.2) scale(0.94,1)" font-size="74.2" letter-spacing="1.38">300</text>
<text transform="translate(1229.7,2015.2) scale(0.94,1)" font-size="74.2" letter-spacing="1.39">400</text>
<text transform="translate(959.5,2015.2) scale(0.94,1)" font-size="74.2" letter-spacing="1.37">500</text>
<text transform="translate(689.6,2015.2) scale(0.94,1)" font-size="74.2" letter-spacing="1.36">600</text>
<text transform="translate(419.8,2015.2) scale(0.94,1)" font-size="74.2" letter-spacing="1.36">700</text>
<text transform="translate(150.5,2015.2) scale(0.94,1)" font-size="74.2" letter-spacing="1.37">800</text>
<text transform="translate(890.7,2151.5) scale(0.97,1)" font-size="91.7" letter-spacing="0.22">Binding Energy (eV)</text>
<text transform="translate(99.5,1325.7) rotate(-90) scale(0.97,1)" font-size="91.7" letter-spacing="-0.13">Intensity (Counts)</text>
<text transform="translate(1616.1,1319.3) scale(0.96,1)" font-size="65" letter-spacing="1.45">180W</text>
<text transform="translate(1616.1,1496.3) scale(0.96,1)" font-size="65" letter-spacing="1.45">140W</text>
<text transform="translate(1621.0,1651.5) scale(0.96,1)" font-size="65" letter-spacing="1.69">100W</text>
<text transform="translate(1637.4,1828.9) scale(0.96,1)" font-size="65" letter-spacing="3.25">60W</text>
<text transform="translate(492.1,667.9) rotate(-90) scale(0.96,1)" font-size="58.7" letter-spacing="-0.27">In3p1</text>
<text transform="translate(596.0,584.2) rotate(-90) scale(0.96,1)" font-size="68" letter-spacing="-1.29">In3p3</text>
<rect x="900.0" y="833.5" width="83.9" height="122.1" fill="none" stroke="#303030" stroke-width="3.2"/>
<text transform="translate(960.2,945.7) rotate(-90) scale(0.96,1)" font-size="58.7" letter-spacing="0.13">O1s</text>
<rect x="1185.7" y="91.1" width="86.3" height="224.4" fill="none" stroke="#303030" stroke-width="3.2"/>
<text transform="translate(1249.6,306.3) rotate(-90) scale(0.96,1)" font-size="68" letter-spacing="-1.32">In3d5/2</text>
<rect x="1286.3" y="1045.7" width="81.6" height="120.1" fill="none" stroke="#303030" stroke-width="3.2"/>
<text transform="translate(1347.7,1156.2) rotate(-90) scale(0.96,1)" font-size="58.7" letter-spacing="0.29">N1s</text>
<text transform="translate(2069.3,1300.0) rotate(-90) scale(0.96,1)" font-size="58.7" letter-spacing="-0.52">Al2s</text>
<rect x="2125.5" y="1185.6" width="84.2" height="132.1" fill="none" stroke="#303030" stroke-width="3.2"/>
<text transform="translate(2186.1,1308.2) rotate(-90) scale(0.96,1)" font-size="58.7" letter-spacing="0.97">Al2p</text>
<text transform="translate(2331.0,1216.4) rotate(-90) scale(0.96,1)" font-size="58.7" letter-spacing="-0.75">In4d</text>
</svg></body></html>
